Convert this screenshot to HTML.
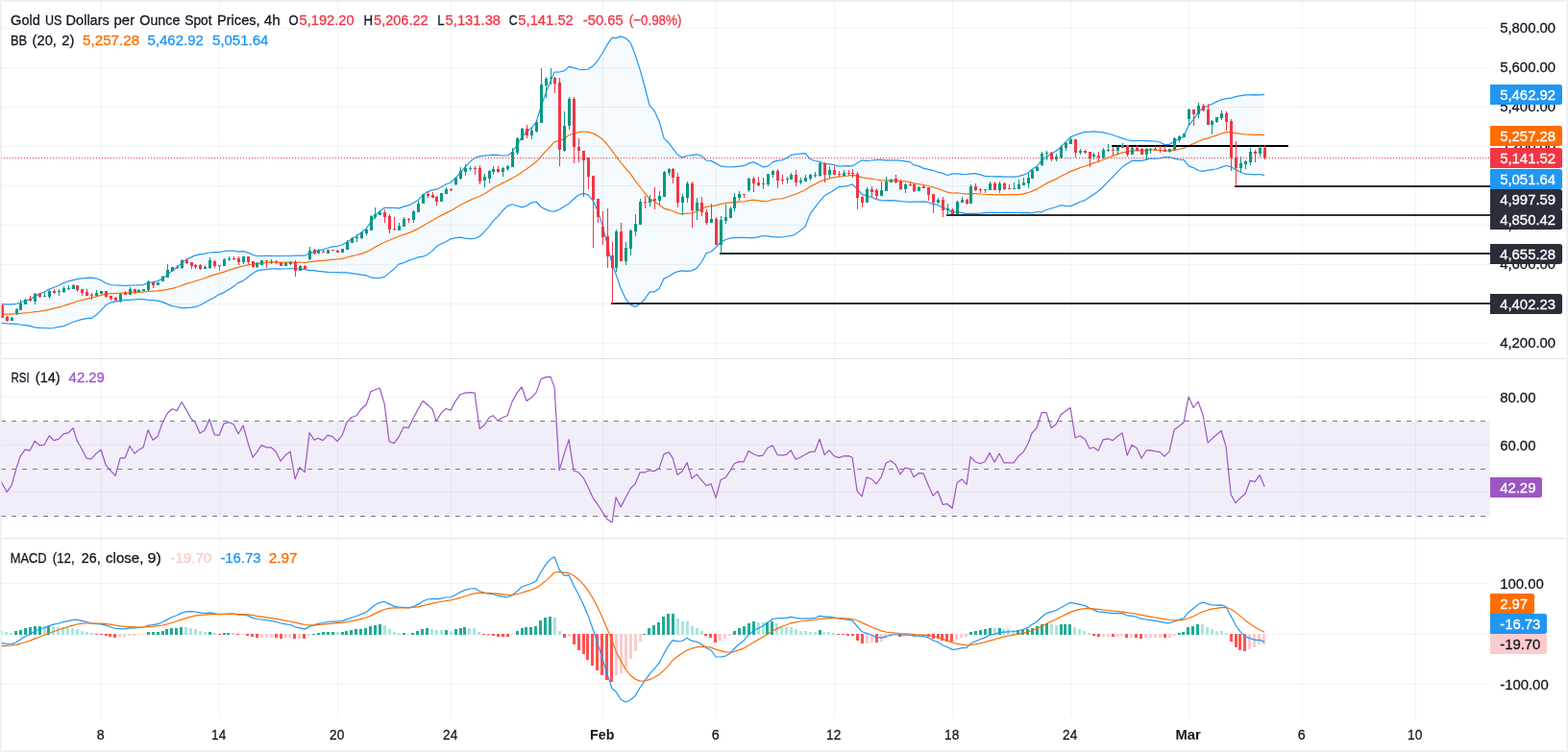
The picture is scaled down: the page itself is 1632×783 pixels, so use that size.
<!DOCTYPE html>
<html lang="en"><head><meta charset="utf-8"><title>Gold US Dollars per Ounce Spot Prices, 4h</title>
<style>html,body{margin:0;padding:0;background:#fff;overflow:hidden}svg{display:block}</style></head>
<body>
<svg width="1632" height="783" viewBox="0 0 1632 783" font-family='"Liberation Sans", Arial, sans-serif' font-size="15.2">
<rect width="1632" height="783" fill="#eef0f4"/>
<rect x="2" y="2" width="1628" height="779" fill="#fff"/>
<g fill="rgba(42,46,57,0.06)" shape-rendering="crispEdges">
<rect x="105" y="2" width="1" height="745"/>
<rect x="228" y="2" width="1" height="745"/>
<rect x="351" y="2" width="1" height="745"/>
<rect x="469" y="2" width="1" height="745"/>
<rect x="627" y="2" width="1" height="745"/>
<rect x="745" y="2" width="1" height="745"/>
<rect x="868" y="2" width="1" height="745"/>
<rect x="991" y="2" width="1" height="745"/>
<rect x="1114" y="2" width="1" height="745"/>
<rect x="1237" y="2" width="1" height="745"/>
<rect x="1355" y="2" width="1" height="745"/>
<rect x="1473" y="2" width="1" height="745"/>
<rect x="2" y="29" width="1549" height="1"/>
<rect x="2" y="70" width="1549" height="1"/>
<rect x="2" y="111" width="1549" height="1"/>
<rect x="2" y="152" width="1549" height="1"/>
<rect x="2" y="193" width="1549" height="1"/>
<rect x="2" y="234" width="1549" height="1"/>
<rect x="2" y="275" width="1549" height="1"/>
<rect x="2" y="316" width="1549" height="1"/>
<rect x="2" y="357" width="1549" height="1"/>
<rect x="2" y="413" width="1549" height="1"/>
<rect x="2" y="463" width="1549" height="1"/>
<rect x="2" y="512" width="1549" height="1"/>
<rect x="2" y="607" width="1549" height="1"/>
<rect x="2" y="660" width="1549" height="1"/>
<rect x="2" y="712" width="1549" height="1"/>
</g>
<g fill="#e0e3eb" shape-rendering="crispEdges"><rect x="2" y="373" width="1628" height="1"/><rect x="2" y="560" width="1628" height="1"/></g>
<defs><clipPath id="c1"><rect x="1" y="2" width="1550" height="371"/></clipPath><clipPath id="c2"><rect x="1" y="374" width="1550" height="186"/></clipPath><clipPath id="c3"><rect x="1" y="561" width="1550" height="186"/></clipPath></defs>
<g clip-path="url(#c1)">
<path d="M0.0,316.9 L2.1,316.9 L7.1,316.9 L12.1,316.8 L17.1,316.3 L21.1,315.0 L26.1,313.2 L31.1,312.0 L36.1,308.6 L41.1,305.9 L46.1,304.0 L51.1,301.1 L56.1,299.2 L61.1,297.3 L66.1,294.6 L71.1,292.8 L76.1,291.6 L80.1,290.6 L85.1,289.9 L90.1,289.3 L95.1,289.1 L100.1,289.8 L105.1,291.8 L110.1,294.8 L115.1,296.5 L120.1,297.0 L125.1,297.2 L130.1,297.5 L135.1,297.1 L140.1,297.0 L144.1,296.8 L149.1,296.6 L154.1,294.5 L159.1,293.7 L164.1,292.6 L169.1,290.1 L174.1,286.3 L179.1,281.9 L184.1,278.4 L189.1,273.6 L194.1,270.2 L199.1,267.9 L203.1,265.9 L208.1,264.9 L213.1,264.2 L218.1,263.0 L223.1,262.6 L228.1,262.7 L233.1,261.5 L238.1,261.1 L243.1,261.1 L248.1,262.2 L253.1,261.6 L258.1,263.1 L263.1,265.2 L267.1,266.5 L272.1,266.5 L277.1,266.3 L282.1,266.3 L287.1,266.5 L292.1,266.5 L297.1,266.5 L302.1,266.5 L307.1,266.2 L312.1,266.2 L317.1,266.2 L322.1,263.7 L327.1,262.4 L331.1,260.8 L336.1,259.8 L341.1,258.3 L346.1,256.9 L351.1,256.3 L356.1,254.8 L361.1,252.2 L366.1,248.8 L371.1,245.8 L376.1,242.0 L381.1,238.1 L386.1,231.2 L390.1,225.3 L395.1,219.9 L400.1,216.3 L405.1,216.3 L410.1,216.3 L415.1,216.9 L420.1,215.1 L425.1,213.9 L430.1,211.5 L435.1,208.2 L440.1,203.1 L445.1,199.6 L450.1,197.8 L454.1,197.2 L459.1,194.8 L464.1,192.0 L469.1,190.0 L474.1,185.4 L479.1,179.8 L484.1,173.8 L489.1,168.6 L494.1,164.3 L499.1,162.7 L504.1,162.1 L509.1,161.5 L513.1,161.2 L518.1,161.3 L523.1,162.0 L528.1,162.0 L533.1,158.4 L538.1,151.0 L543.1,142.5 L548.1,137.6 L553.1,133.3 L558.1,127.2 L563.1,110.8 L568.1,96.6 L573.1,84.3 L577.1,75.1 L582.1,75.0 L587.1,73.8 L592.1,69.4 L597.1,70.7 L602.1,72.0 L607.1,72.6 L612.1,72.0 L617.1,68.8 L622.1,63.2 L627.1,55.2 L632.1,46.3 L637.1,39.1 L641.1,39.6 L646.1,37.9 L651.1,39.5 L656.1,44.3 L661.1,56.8 L666.1,72.4 L671.1,90.5 L676.1,109.8 L681.1,115.4 L686.1,126.2 L691.1,144.1 L696.1,148.8 L700.1,154.3 L705.1,161.0 L710.1,164.1 L715.1,162.0 L720.1,161.6 L725.1,160.7 L730.1,162.4 L735.1,167.0 L740.1,167.4 L745.1,170.1 L750.1,172.9 L755.1,173.7 L760.1,174.0 L764.1,173.7 L769.1,173.1 L774.1,172.7 L779.1,170.1 L784.1,168.7 L789.1,170.9 L794.1,173.8 L799.1,173.1 L804.1,168.9 L809.1,167.1 L814.1,166.6 L819.1,164.3 L823.1,161.7 L828.1,160.5 L833.1,160.1 L838.1,159.6 L843.1,165.5 L848.1,167.5 L853.1,168.4 L858.1,170.7 L863.1,170.8 L868.1,171.6 L873.1,173.2 L878.1,172.8 L883.1,172.7 L887.1,172.9 L892.1,169.8 L897.1,166.8 L902.1,167.3 L907.1,167.0 L912.1,166.3 L917.1,166.4 L922.1,166.9 L927.1,166.8 L932.1,166.9 L937.1,167.2 L942.1,167.9 L947.1,168.6 L951.1,171.8 L956.1,172.9 L961.1,175.1 L966.1,176.4 L971.1,177.3 L976.1,179.3 L981.1,180.4 L986.1,182.5 L991.1,180.9 L996.1,180.9 L1001.1,181.4 L1006.1,181.5 L1010.1,180.8 L1015.1,180.7 L1020.1,181.9 L1025.1,183.4 L1030.1,183.7 L1035.1,183.8 L1040.1,183.7 L1045.1,184.2 L1050.1,184.0 L1055.1,184.1 L1060.1,183.6 L1065.1,182.2 L1070.1,180.0 L1074.1,176.3 L1079.1,173.3 L1084.1,167.2 L1089.1,163.2 L1094.1,160.2 L1099.1,157.3 L1104.1,153.2 L1109.1,147.9 L1114.1,142.6 L1119.1,140.7 L1124.1,138.9 L1129.1,137.4 L1134.1,137.4 L1138.1,136.9 L1143.1,137.4 L1148.1,137.8 L1153.1,139.0 L1158.1,140.5 L1163.1,142.3 L1168.1,143.9 L1173.1,145.5 L1178.1,146.6 L1183.1,146.5 L1188.1,146.5 L1193.1,146.7 L1197.1,146.8 L1202.1,147.0 L1207.1,148.0 L1212.1,150.6 L1217.1,150.3 L1222.1,147.5 L1227.1,144.7 L1232.1,142.0 L1237.1,130.8 L1242.1,124.6 L1247.1,117.1 L1252.1,112.1 L1257.1,110.5 L1261.1,108.5 L1266.1,106.1 L1271.1,103.8 L1276.1,102.7 L1281.1,102.1 L1286.1,100.6 L1291.1,99.6 L1296.1,98.9 L1301.1,98.8 L1306.1,98.7 L1311.1,98.8 L1316.1,98.4 L1316.1,182.7 L1311.1,181.5 L1306.1,181.9 L1301.1,181.5 L1296.1,181.2 L1291.1,179.2 L1286.1,176.6 L1281.1,173.7 L1276.1,172.5 L1271.1,174.1 L1266.1,176.0 L1261.1,176.6 L1257.1,177.3 L1252.1,178.3 L1247.1,177.5 L1242.1,174.6 L1237.1,172.9 L1232.1,166.4 L1227.1,166.2 L1222.1,165.1 L1217.1,163.6 L1212.1,163.7 L1207.1,165.0 L1202.1,165.2 L1197.1,165.2 L1193.1,166.1 L1188.1,167.3 L1183.1,167.2 L1178.1,167.4 L1173.1,170.6 L1168.1,173.8 L1163.1,178.8 L1158.1,184.3 L1153.1,189.3 L1148.1,194.5 L1143.1,199.0 L1138.1,202.8 L1134.1,205.3 L1129.1,208.6 L1124.1,210.3 L1119.1,212.6 L1114.1,214.6 L1109.1,214.5 L1104.1,213.7 L1099.1,215.5 L1094.1,217.0 L1089.1,218.5 L1084.1,220.8 L1079.1,220.5 L1074.1,221.9 L1070.1,221.3 L1065.1,221.7 L1060.1,221.5 L1055.1,221.3 L1050.1,221.4 L1045.1,221.3 L1040.1,221.5 L1035.1,221.4 L1030.1,221.4 L1025.1,221.6 L1020.1,222.1 L1015.1,222.4 L1010.1,222.4 L1006.1,222.6 L1001.1,221.6 L996.1,220.9 L991.1,221.0 L986.1,217.7 L981.1,216.2 L976.1,213.4 L971.1,212.6 L966.1,210.7 L961.1,209.9 L956.1,210.2 L951.1,210.0 L947.1,210.3 L942.1,210.0 L937.1,209.7 L932.1,208.8 L927.1,208.7 L922.1,208.9 L917.1,208.7 L912.1,207.6 L907.1,205.3 L902.1,203.8 L897.1,202.4 L892.1,196.5 L887.1,191.9 L883.1,193.3 L878.1,194.2 L873.1,194.4 L868.1,198.1 L863.1,200.9 L858.1,203.8 L853.1,209.7 L848.1,216.2 L843.1,222.9 L838.1,236.1 L833.1,239.9 L828.1,243.8 L823.1,245.7 L819.1,246.0 L814.1,247.0 L809.1,246.8 L804.1,246.7 L799.1,245.8 L794.1,245.5 L789.1,246.8 L784.1,247.7 L779.1,247.6 L774.1,247.3 L769.1,247.4 L764.1,247.6 L760.1,247.8 L755.1,249.7 L750.1,251.9 L745.1,257.6 L740.1,262.0 L735.1,263.7 L730.1,273.0 L725.1,279.3 L720.1,281.9 L715.1,282.3 L710.1,281.8 L705.1,282.8 L700.1,285.1 L696.1,287.7 L691.1,290.1 L686.1,300.4 L681.1,303.9 L676.1,304.2 L671.1,311.5 L666.1,316.6 L661.1,319.4 L656.1,317.4 L651.1,310.9 L646.1,300.3 L641.1,285.5 L637.1,275.3 L632.1,254.7 L627.1,234.9 L622.1,219.6 L617.1,208.9 L612.1,202.8 L607.1,201.4 L602.1,203.2 L597.1,207.2 L592.1,212.1 L587.1,215.0 L582.1,218.2 L577.1,220.1 L573.1,220.0 L568.1,218.1 L563.1,215.5 L558.1,210.0 L553.1,211.2 L548.1,214.3 L543.1,215.9 L538.1,214.3 L533.1,212.8 L528.1,214.6 L523.1,219.3 L518.1,225.3 L513.1,230.3 L509.1,235.9 L504.1,241.4 L499.1,246.3 L494.1,248.4 L489.1,248.6 L484.1,248.2 L479.1,247.2 L474.1,247.7 L469.1,248.8 L464.1,251.8 L459.1,254.0 L454.1,256.8 L450.1,261.1 L445.1,265.0 L440.1,267.2 L435.1,267.9 L430.1,269.7 L425.1,271.4 L420.1,273.7 L415.1,275.1 L410.1,280.2 L405.1,284.1 L400.1,288.4 L395.1,289.5 L390.1,289.4 L386.1,288.9 L381.1,286.7 L376.1,286.1 L371.1,285.3 L366.1,284.6 L361.1,283.9 L356.1,283.8 L351.1,283.7 L346.1,283.5 L341.1,283.3 L336.1,282.8 L331.1,282.4 L327.1,281.7 L322.1,281.7 L317.1,280.7 L312.1,279.9 L307.1,280.0 L302.1,279.5 L297.1,280.0 L292.1,280.2 L287.1,279.9 L282.1,279.9 L277.1,280.6 L272.1,281.1 L267.1,282.1 L263.1,284.7 L258.1,288.5 L253.1,292.4 L248.1,294.4 L243.1,298.3 L238.1,301.6 L233.1,304.6 L228.1,306.6 L223.1,309.7 L218.1,312.2 L213.1,315.2 L208.1,317.7 L203.1,319.6 L199.1,320.2 L194.1,320.7 L189.1,320.7 L184.1,319.5 L179.1,318.6 L174.1,316.6 L169.1,314.4 L164.1,313.1 L159.1,312.6 L154.1,312.4 L149.1,311.6 L144.1,311.5 L140.1,311.9 L135.1,312.3 L130.1,312.4 L125.1,313.3 L120.1,314.1 L115.1,314.9 L110.1,317.8 L105.1,323.1 L100.1,328.1 L95.1,331.4 L90.1,331.6 L85.1,332.7 L80.1,334.0 L76.1,335.3 L71.1,337.5 L66.1,339.6 L61.1,340.4 L56.1,341.5 L51.1,341.8 L46.1,341.5 L41.1,341.3 L36.1,340.8 L31.1,339.4 L26.1,338.7 L21.1,338.0 L17.1,337.4 L12.1,337.1 L7.1,336.9 L2.1,336.5 L0.0,336.5 Z" fill="#2196f3" fill-opacity="0.05"/>
<path d="M0.0,327.3 L2.1,327.3 L7.1,327.2 L12.1,327.1 L17.1,326.7 L21.1,326.3 L26.1,325.8 L31.1,325.5 L36.1,324.7 L41.1,324.1 L46.1,323.3 L51.1,322.4 L56.1,321.2 L61.1,319.9 L66.1,318.5 L71.1,316.9 L76.1,315.2 L80.1,313.8 L85.1,312.5 L90.1,311.3 L95.1,310.2 L100.1,308.9 L105.1,307.4 L110.1,306.3 L115.1,305.7 L120.1,305.6 L125.1,305.2 L130.1,304.9 L135.1,304.7 L140.1,304.4 L144.1,304.2 L149.1,304.1 L154.1,303.5 L159.1,303.2 L164.1,302.9 L169.1,302.2 L174.1,301.4 L179.1,300.3 L184.1,299.0 L189.1,297.2 L194.1,295.4 L199.1,294.0 L203.1,292.8 L208.1,291.3 L213.1,289.7 L218.1,287.6 L223.1,286.1 L228.1,284.6 L233.1,283.1 L238.1,281.4 L243.1,279.7 L248.1,278.3 L253.1,277.0 L258.1,275.8 L263.1,275.0 L267.1,274.3 L272.1,273.8 L277.1,273.4 L282.1,273.1 L287.1,273.2 L292.1,273.4 L297.1,273.2 L302.1,273.0 L307.1,273.1 L312.1,273.1 L317.1,273.5 L322.1,272.7 L327.1,272.1 L331.1,271.6 L336.1,271.3 L341.1,270.8 L346.1,270.2 L351.1,270.0 L356.1,269.3 L361.1,268.0 L366.1,266.7 L371.1,265.5 L376.1,264.1 L381.1,262.4 L386.1,260.0 L390.1,257.4 L395.1,254.7 L400.1,252.3 L405.1,250.2 L410.1,248.2 L415.1,246.0 L420.1,244.4 L425.1,242.6 L430.1,240.6 L435.1,238.1 L440.1,235.2 L445.1,232.3 L450.1,229.5 L454.1,227.0 L459.1,224.4 L464.1,221.9 L469.1,219.4 L474.1,216.6 L479.1,213.5 L484.1,211.0 L489.1,208.6 L494.1,206.3 L499.1,204.5 L504.1,201.8 L509.1,198.7 L513.1,195.8 L518.1,193.3 L523.1,190.6 L528.1,188.3 L533.1,185.6 L538.1,182.7 L543.1,179.2 L548.1,176.0 L553.1,172.3 L558.1,168.6 L563.1,163.1 L568.1,157.4 L573.1,152.2 L577.1,147.6 L582.1,146.6 L587.1,144.4 L592.1,140.8 L597.1,139.0 L602.1,137.6 L607.1,137.0 L612.1,137.4 L617.1,138.9 L622.1,141.4 L627.1,145.1 L632.1,150.5 L637.1,157.2 L641.1,162.6 L646.1,169.1 L651.1,175.2 L656.1,180.9 L661.1,188.1 L666.1,194.5 L671.1,201.0 L676.1,207.0 L681.1,209.7 L686.1,213.3 L691.1,217.1 L696.1,218.3 L700.1,219.7 L705.1,221.9 L710.1,223.0 L715.1,222.1 L720.1,221.8 L725.1,220.0 L730.1,217.7 L735.1,215.4 L740.1,214.7 L745.1,213.9 L750.1,212.4 L755.1,211.7 L760.1,210.9 L764.1,210.7 L769.1,210.2 L774.1,210.0 L779.1,208.9 L784.1,208.2 L789.1,208.9 L794.1,209.6 L799.1,209.5 L804.1,207.8 L809.1,207.0 L814.1,206.8 L819.1,205.2 L823.1,203.7 L828.1,202.2 L833.1,200.0 L838.1,197.8 L843.1,194.2 L848.1,191.9 L853.1,189.1 L858.1,187.3 L863.1,185.9 L868.1,184.9 L873.1,183.8 L878.1,183.5 L883.1,183.0 L887.1,182.4 L892.1,183.1 L897.1,184.6 L902.1,185.6 L907.1,186.2 L912.1,187.0 L917.1,187.6 L922.1,187.9 L927.1,187.8 L932.1,187.9 L937.1,188.4 L942.1,188.9 L947.1,189.5 L951.1,190.9 L956.1,191.6 L961.1,192.5 L966.1,193.5 L971.1,195.0 L976.1,196.4 L981.1,198.3 L986.1,200.1 L991.1,201.0 L996.1,200.9 L1001.1,201.5 L1006.1,202.1 L1010.1,201.6 L1015.1,201.6 L1020.1,202.0 L1025.1,202.5 L1030.1,202.6 L1035.1,202.6 L1040.1,202.6 L1045.1,202.8 L1050.1,202.7 L1055.1,202.7 L1060.1,202.6 L1065.1,201.9 L1070.1,200.7 L1074.1,199.1 L1079.1,196.9 L1084.1,194.0 L1089.1,190.9 L1094.1,188.6 L1099.1,186.4 L1104.1,183.5 L1109.1,181.2 L1114.1,178.6 L1119.1,176.6 L1124.1,174.6 L1129.1,173.0 L1134.1,171.4 L1138.1,169.9 L1143.1,168.2 L1148.1,166.2 L1153.1,164.2 L1158.1,162.4 L1163.1,160.6 L1168.1,158.9 L1173.1,158.0 L1178.1,157.0 L1183.1,156.9 L1188.1,156.9 L1193.1,156.4 L1197.1,156.0 L1202.1,156.1 L1207.1,156.5 L1212.1,157.1 L1217.1,157.0 L1222.1,156.3 L1227.1,155.5 L1232.1,154.2 L1237.1,151.9 L1242.1,149.6 L1247.1,147.3 L1252.1,145.2 L1257.1,143.9 L1261.1,142.5 L1266.1,141.1 L1271.1,139.0 L1276.1,137.6 L1281.1,137.9 L1286.1,138.6 L1291.1,139.4 L1296.1,140.0 L1301.1,140.2 L1306.1,140.3 L1311.1,140.1 L1316.1,140.6" fill="none" stroke="#ff6d00" stroke-width="1.2" stroke-linejoin="round"/>
<path d="M0.0,316.9 L2.1,316.9 L7.1,316.9 L12.1,316.8 L17.1,316.3 L21.1,315.0 L26.1,313.2 L31.1,312.0 L36.1,308.6 L41.1,305.9 L46.1,304.0 L51.1,301.1 L56.1,299.2 L61.1,297.3 L66.1,294.6 L71.1,292.8 L76.1,291.6 L80.1,290.6 L85.1,289.9 L90.1,289.3 L95.1,289.1 L100.1,289.8 L105.1,291.8 L110.1,294.8 L115.1,296.5 L120.1,297.0 L125.1,297.2 L130.1,297.5 L135.1,297.1 L140.1,297.0 L144.1,296.8 L149.1,296.6 L154.1,294.5 L159.1,293.7 L164.1,292.6 L169.1,290.1 L174.1,286.3 L179.1,281.9 L184.1,278.4 L189.1,273.6 L194.1,270.2 L199.1,267.9 L203.1,265.9 L208.1,264.9 L213.1,264.2 L218.1,263.0 L223.1,262.6 L228.1,262.7 L233.1,261.5 L238.1,261.1 L243.1,261.1 L248.1,262.2 L253.1,261.6 L258.1,263.1 L263.1,265.2 L267.1,266.5 L272.1,266.5 L277.1,266.3 L282.1,266.3 L287.1,266.5 L292.1,266.5 L297.1,266.5 L302.1,266.5 L307.1,266.2 L312.1,266.2 L317.1,266.2 L322.1,263.7 L327.1,262.4 L331.1,260.8 L336.1,259.8 L341.1,258.3 L346.1,256.9 L351.1,256.3 L356.1,254.8 L361.1,252.2 L366.1,248.8 L371.1,245.8 L376.1,242.0 L381.1,238.1 L386.1,231.2 L390.1,225.3 L395.1,219.9 L400.1,216.3 L405.1,216.3 L410.1,216.3 L415.1,216.9 L420.1,215.1 L425.1,213.9 L430.1,211.5 L435.1,208.2 L440.1,203.1 L445.1,199.6 L450.1,197.8 L454.1,197.2 L459.1,194.8 L464.1,192.0 L469.1,190.0 L474.1,185.4 L479.1,179.8 L484.1,173.8 L489.1,168.6 L494.1,164.3 L499.1,162.7 L504.1,162.1 L509.1,161.5 L513.1,161.2 L518.1,161.3 L523.1,162.0 L528.1,162.0 L533.1,158.4 L538.1,151.0 L543.1,142.5 L548.1,137.6 L553.1,133.3 L558.1,127.2 L563.1,110.8 L568.1,96.6 L573.1,84.3 L577.1,75.1 L582.1,75.0 L587.1,73.8 L592.1,69.4 L597.1,70.7 L602.1,72.0 L607.1,72.6 L612.1,72.0 L617.1,68.8 L622.1,63.2 L627.1,55.2 L632.1,46.3 L637.1,39.1 L641.1,39.6 L646.1,37.9 L651.1,39.5 L656.1,44.3 L661.1,56.8 L666.1,72.4 L671.1,90.5 L676.1,109.8 L681.1,115.4 L686.1,126.2 L691.1,144.1 L696.1,148.8 L700.1,154.3 L705.1,161.0 L710.1,164.1 L715.1,162.0 L720.1,161.6 L725.1,160.7 L730.1,162.4 L735.1,167.0 L740.1,167.4 L745.1,170.1 L750.1,172.9 L755.1,173.7 L760.1,174.0 L764.1,173.7 L769.1,173.1 L774.1,172.7 L779.1,170.1 L784.1,168.7 L789.1,170.9 L794.1,173.8 L799.1,173.1 L804.1,168.9 L809.1,167.1 L814.1,166.6 L819.1,164.3 L823.1,161.7 L828.1,160.5 L833.1,160.1 L838.1,159.6 L843.1,165.5 L848.1,167.5 L853.1,168.4 L858.1,170.7 L863.1,170.8 L868.1,171.6 L873.1,173.2 L878.1,172.8 L883.1,172.7 L887.1,172.9 L892.1,169.8 L897.1,166.8 L902.1,167.3 L907.1,167.0 L912.1,166.3 L917.1,166.4 L922.1,166.9 L927.1,166.8 L932.1,166.9 L937.1,167.2 L942.1,167.9 L947.1,168.6 L951.1,171.8 L956.1,172.9 L961.1,175.1 L966.1,176.4 L971.1,177.3 L976.1,179.3 L981.1,180.4 L986.1,182.5 L991.1,180.9 L996.1,180.9 L1001.1,181.4 L1006.1,181.5 L1010.1,180.8 L1015.1,180.7 L1020.1,181.9 L1025.1,183.4 L1030.1,183.7 L1035.1,183.8 L1040.1,183.7 L1045.1,184.2 L1050.1,184.0 L1055.1,184.1 L1060.1,183.6 L1065.1,182.2 L1070.1,180.0 L1074.1,176.3 L1079.1,173.3 L1084.1,167.2 L1089.1,163.2 L1094.1,160.2 L1099.1,157.3 L1104.1,153.2 L1109.1,147.9 L1114.1,142.6 L1119.1,140.7 L1124.1,138.9 L1129.1,137.4 L1134.1,137.4 L1138.1,136.9 L1143.1,137.4 L1148.1,137.8 L1153.1,139.0 L1158.1,140.5 L1163.1,142.3 L1168.1,143.9 L1173.1,145.5 L1178.1,146.6 L1183.1,146.5 L1188.1,146.5 L1193.1,146.7 L1197.1,146.8 L1202.1,147.0 L1207.1,148.0 L1212.1,150.6 L1217.1,150.3 L1222.1,147.5 L1227.1,144.7 L1232.1,142.0 L1237.1,130.8 L1242.1,124.6 L1247.1,117.1 L1252.1,112.1 L1257.1,110.5 L1261.1,108.5 L1266.1,106.1 L1271.1,103.8 L1276.1,102.7 L1281.1,102.1 L1286.1,100.6 L1291.1,99.6 L1296.1,98.9 L1301.1,98.8 L1306.1,98.7 L1311.1,98.8 L1316.1,98.4" fill="none" stroke="#2196f3" stroke-width="1.2" stroke-linejoin="round"/>
<path d="M0.0,336.5 L2.1,336.5 L7.1,336.9 L12.1,337.1 L17.1,337.4 L21.1,338.0 L26.1,338.7 L31.1,339.4 L36.1,340.8 L41.1,341.3 L46.1,341.5 L51.1,341.8 L56.1,341.5 L61.1,340.4 L66.1,339.6 L71.1,337.5 L76.1,335.3 L80.1,334.0 L85.1,332.7 L90.1,331.6 L95.1,331.4 L100.1,328.1 L105.1,323.1 L110.1,317.8 L115.1,314.9 L120.1,314.1 L125.1,313.3 L130.1,312.4 L135.1,312.3 L140.1,311.9 L144.1,311.5 L149.1,311.6 L154.1,312.4 L159.1,312.6 L164.1,313.1 L169.1,314.4 L174.1,316.6 L179.1,318.6 L184.1,319.5 L189.1,320.7 L194.1,320.7 L199.1,320.2 L203.1,319.6 L208.1,317.7 L213.1,315.2 L218.1,312.2 L223.1,309.7 L228.1,306.6 L233.1,304.6 L238.1,301.6 L243.1,298.3 L248.1,294.4 L253.1,292.4 L258.1,288.5 L263.1,284.7 L267.1,282.1 L272.1,281.1 L277.1,280.6 L282.1,279.9 L287.1,279.9 L292.1,280.2 L297.1,280.0 L302.1,279.5 L307.1,280.0 L312.1,279.9 L317.1,280.7 L322.1,281.7 L327.1,281.7 L331.1,282.4 L336.1,282.8 L341.1,283.3 L346.1,283.5 L351.1,283.7 L356.1,283.8 L361.1,283.9 L366.1,284.6 L371.1,285.3 L376.1,286.1 L381.1,286.7 L386.1,288.9 L390.1,289.4 L395.1,289.5 L400.1,288.4 L405.1,284.1 L410.1,280.2 L415.1,275.1 L420.1,273.7 L425.1,271.4 L430.1,269.7 L435.1,267.9 L440.1,267.2 L445.1,265.0 L450.1,261.1 L454.1,256.8 L459.1,254.0 L464.1,251.8 L469.1,248.8 L474.1,247.7 L479.1,247.2 L484.1,248.2 L489.1,248.6 L494.1,248.4 L499.1,246.3 L504.1,241.4 L509.1,235.9 L513.1,230.3 L518.1,225.3 L523.1,219.3 L528.1,214.6 L533.1,212.8 L538.1,214.3 L543.1,215.9 L548.1,214.3 L553.1,211.2 L558.1,210.0 L563.1,215.5 L568.1,218.1 L573.1,220.0 L577.1,220.1 L582.1,218.2 L587.1,215.0 L592.1,212.1 L597.1,207.2 L602.1,203.2 L607.1,201.4 L612.1,202.8 L617.1,208.9 L622.1,219.6 L627.1,234.9 L632.1,254.7 L637.1,275.3 L641.1,285.5 L646.1,300.3 L651.1,310.9 L656.1,317.4 L661.1,319.4 L666.1,316.6 L671.1,311.5 L676.1,304.2 L681.1,303.9 L686.1,300.4 L691.1,290.1 L696.1,287.7 L700.1,285.1 L705.1,282.8 L710.1,281.8 L715.1,282.3 L720.1,281.9 L725.1,279.3 L730.1,273.0 L735.1,263.7 L740.1,262.0 L745.1,257.6 L750.1,251.9 L755.1,249.7 L760.1,247.8 L764.1,247.6 L769.1,247.4 L774.1,247.3 L779.1,247.6 L784.1,247.7 L789.1,246.8 L794.1,245.5 L799.1,245.8 L804.1,246.7 L809.1,246.8 L814.1,247.0 L819.1,246.0 L823.1,245.7 L828.1,243.8 L833.1,239.9 L838.1,236.1 L843.1,222.9 L848.1,216.2 L853.1,209.7 L858.1,203.8 L863.1,200.9 L868.1,198.1 L873.1,194.4 L878.1,194.2 L883.1,193.3 L887.1,191.9 L892.1,196.5 L897.1,202.4 L902.1,203.8 L907.1,205.3 L912.1,207.6 L917.1,208.7 L922.1,208.9 L927.1,208.7 L932.1,208.8 L937.1,209.7 L942.1,210.0 L947.1,210.3 L951.1,210.0 L956.1,210.2 L961.1,209.9 L966.1,210.7 L971.1,212.6 L976.1,213.4 L981.1,216.2 L986.1,217.7 L991.1,221.0 L996.1,220.9 L1001.1,221.6 L1006.1,222.6 L1010.1,222.4 L1015.1,222.4 L1020.1,222.1 L1025.1,221.6 L1030.1,221.4 L1035.1,221.4 L1040.1,221.5 L1045.1,221.3 L1050.1,221.4 L1055.1,221.3 L1060.1,221.5 L1065.1,221.7 L1070.1,221.3 L1074.1,221.9 L1079.1,220.5 L1084.1,220.8 L1089.1,218.5 L1094.1,217.0 L1099.1,215.5 L1104.1,213.7 L1109.1,214.5 L1114.1,214.6 L1119.1,212.6 L1124.1,210.3 L1129.1,208.6 L1134.1,205.3 L1138.1,202.8 L1143.1,199.0 L1148.1,194.5 L1153.1,189.3 L1158.1,184.3 L1163.1,178.8 L1168.1,173.8 L1173.1,170.6 L1178.1,167.4 L1183.1,167.2 L1188.1,167.3 L1193.1,166.1 L1197.1,165.2 L1202.1,165.2 L1207.1,165.0 L1212.1,163.7 L1217.1,163.6 L1222.1,165.1 L1227.1,166.2 L1232.1,166.4 L1237.1,172.9 L1242.1,174.6 L1247.1,177.5 L1252.1,178.3 L1257.1,177.3 L1261.1,176.6 L1266.1,176.0 L1271.1,174.1 L1276.1,172.5 L1281.1,173.7 L1286.1,176.6 L1291.1,179.2 L1296.1,181.2 L1301.1,181.5 L1306.1,181.9 L1311.1,181.5 L1316.1,182.7" fill="none" stroke="#2196f3" stroke-width="1.2" stroke-linejoin="round"/>
<rect x="636" y="315.0" width="915" height="2" fill="#2a2e39" shape-rendering="crispEdges"/>
<rect x="749" y="263.0" width="802" height="2" fill="#2a2e39" shape-rendering="crispEdges"/>
<rect x="985" y="223.0" width="566" height="2" fill="#2a2e39" shape-rendering="crispEdges"/>
<rect x="1285" y="193.0" width="266" height="2" fill="#2a2e39" shape-rendering="crispEdges"/>
<rect x="1157" y="151" width="184" height="2" rx="1" fill="#000"/>
<g fill="#089981" shape-rendering="crispEdges"><rect x="12" y="330" width="1" height="4"/><rect x="11" y="331" width="3" height="3"/><rect x="17" y="321" width="1" height="7"/><rect x="16" y="322" width="3" height="4"/><rect x="21" y="312" width="1" height="11"/><rect x="20" y="316" width="3" height="7"/><rect x="26" y="311" width="1" height="6"/><rect x="25" y="312" width="3" height="5"/><rect x="36" y="305" width="1" height="12"/><rect x="35" y="306" width="3" height="8"/><rect x="46" y="304" width="1" height="5"/><rect x="45" y="308" width="3" height="1"/><rect x="51" y="302" width="1" height="9"/><rect x="50" y="303" width="3" height="6"/><rect x="61" y="301" width="1" height="7"/><rect x="60" y="303" width="3" height="1"/><rect x="66" y="298" width="1" height="7"/><rect x="65" y="300" width="3" height="4"/><rect x="71" y="297" width="1" height="5"/><rect x="70" y="300" width="3" height="1"/><rect x="76" y="296" width="1" height="5"/><rect x="75" y="297" width="3" height="4"/><rect x="100" y="302" width="1" height="6"/><rect x="99" y="305" width="3" height="3"/><rect x="104" y="303" width="3" height="3"/><rect x="125" y="305" width="1" height="10"/><rect x="124" y="306" width="3" height="7"/><rect x="135" y="299" width="1" height="8"/><rect x="134" y="301" width="3" height="6"/><rect x="144" y="301" width="1" height="4"/><rect x="143" y="302" width="3" height="2"/><rect x="148" y="301" width="3" height="2"/><rect x="154" y="292" width="1" height="12"/><rect x="153" y="293" width="3" height="9"/><rect x="163" y="294" width="3" height="3"/><rect x="169" y="287" width="1" height="6"/><rect x="168" y="288" width="3" height="5"/><rect x="174" y="275" width="1" height="14"/><rect x="173" y="281" width="3" height="8"/><rect x="179" y="278" width="1" height="5"/><rect x="178" y="278" width="3" height="4"/><rect x="189" y="270" width="1" height="10"/><rect x="188" y="271" width="3" height="8"/><rect x="213" y="276" width="1" height="4"/><rect x="212" y="278" width="3" height="2"/><rect x="218" y="268" width="1" height="12"/><rect x="217" y="271" width="3" height="8"/><rect x="233" y="269" width="1" height="8"/><rect x="232" y="270" width="3" height="7"/><rect x="238" y="267" width="1" height="5"/><rect x="237" y="269" width="3" height="1"/><rect x="253" y="267" width="1" height="8"/><rect x="252" y="267" width="3" height="6"/><rect x="267" y="273" width="1" height="6"/><rect x="266" y="274" width="3" height="4"/><rect x="271" y="271" width="3" height="5"/><rect x="282" y="270" width="1" height="5"/><rect x="281" y="272" width="3" height="1"/><rect x="297" y="273" width="1" height="4"/><rect x="296" y="274" width="3" height="3"/><rect x="302" y="272" width="1" height="4"/><rect x="301" y="273" width="3" height="2"/><rect x="312" y="276" width="1" height="6"/><rect x="311" y="277" width="3" height="5"/><rect x="322" y="257" width="1" height="14"/><rect x="321" y="261" width="3" height="9"/><rect x="331" y="259" width="1" height="5"/><rect x="330" y="261" width="3" height="3"/><rect x="340" y="260" width="3" height="4"/><rect x="355" y="259" width="3" height="4"/><rect x="361" y="250" width="1" height="10"/><rect x="360" y="252" width="3" height="8"/><rect x="366" y="247" width="1" height="6"/><rect x="365" y="248" width="3" height="5"/><rect x="371" y="244" width="1" height="8"/><rect x="370" y="247" width="3" height="1"/><rect x="376" y="241" width="1" height="8"/><rect x="375" y="242" width="3" height="6"/><rect x="381" y="238" width="1" height="7"/><rect x="380" y="239" width="3" height="4"/><rect x="386" y="224" width="1" height="16"/><rect x="385" y="225" width="3" height="15"/><rect x="390" y="216" width="1" height="12"/><rect x="389" y="223" width="3" height="3"/><rect x="395" y="219" width="1" height="5"/><rect x="394" y="221" width="3" height="3"/><rect x="415" y="232" width="1" height="8"/><rect x="414" y="235" width="3" height="5"/><rect x="420" y="226" width="1" height="10"/><rect x="419" y="228" width="3" height="8"/><rect x="430" y="219" width="1" height="13"/><rect x="429" y="220" width="3" height="9"/><rect x="435" y="209" width="1" height="12"/><rect x="434" y="212" width="3" height="9"/><rect x="439" y="202" width="3" height="10"/><rect x="458" y="201" width="3" height="9"/><rect x="464" y="195" width="1" height="7"/><rect x="463" y="197" width="3" height="5"/><rect x="474" y="185" width="1" height="8"/><rect x="473" y="185" width="3" height="7"/><rect x="479" y="174" width="1" height="13"/><rect x="478" y="178" width="3" height="8"/><rect x="484" y="171" width="1" height="12"/><rect x="483" y="175" width="3" height="4"/><rect x="489" y="173" width="1" height="5"/><rect x="488" y="175" width="3" height="1"/><rect x="504" y="181" width="1" height="14"/><rect x="503" y="184" width="3" height="4"/><rect x="509" y="177" width="1" height="14"/><rect x="508" y="178" width="3" height="8"/><rect x="513" y="173" width="1" height="9"/><rect x="512" y="176" width="3" height="3"/><rect x="523" y="174" width="1" height="10"/><rect x="522" y="175" width="3" height="4"/><rect x="528" y="172" width="1" height="6"/><rect x="527" y="173" width="3" height="3"/><rect x="533" y="154" width="1" height="20"/><rect x="532" y="158" width="3" height="16"/><rect x="538" y="143" width="1" height="18"/><rect x="537" y="144" width="3" height="15"/><rect x="543" y="133" width="1" height="13"/><rect x="542" y="134" width="3" height="12"/><rect x="553" y="132" width="1" height="13"/><rect x="552" y="136" width="3" height="5"/><rect x="558" y="125" width="1" height="13"/><rect x="557" y="127" width="3" height="10"/><rect x="563" y="71" width="1" height="57"/><rect x="562" y="88" width="3" height="40"/><rect x="568" y="80" width="1" height="22"/><rect x="567" y="82" width="3" height="7"/><rect x="573" y="71" width="1" height="17"/><rect x="572" y="81" width="3" height="1"/><rect x="587" y="116" width="1" height="42"/><rect x="586" y="131" width="3" height="26"/><rect x="592" y="101" width="1" height="34"/><rect x="591" y="103" width="3" height="28"/><rect x="641" y="239" width="1" height="44"/><rect x="640" y="241" width="3" height="38"/><rect x="651" y="252" width="1" height="24"/><rect x="650" y="258" width="3" height="14"/><rect x="656" y="239" width="1" height="27"/><rect x="655" y="240" width="3" height="19"/><rect x="661" y="223" width="1" height="23"/><rect x="660" y="233" width="3" height="8"/><rect x="666" y="207" width="1" height="27"/><rect x="665" y="210" width="3" height="24"/><rect x="676" y="203" width="1" height="12"/><rect x="675" y="207" width="3" height="4"/><rect x="686" y="199" width="1" height="14"/><rect x="685" y="204" width="3" height="5"/><rect x="691" y="178" width="1" height="27"/><rect x="690" y="179" width="3" height="26"/><rect x="696" y="175" width="1" height="8"/><rect x="695" y="176" width="3" height="4"/><rect x="710" y="202" width="1" height="22"/><rect x="709" y="205" width="3" height="6"/><rect x="715" y="189" width="1" height="22"/><rect x="714" y="191" width="3" height="15"/><rect x="725" y="206" width="1" height="23"/><rect x="724" y="211" width="3" height="8"/><rect x="740" y="212" width="1" height="20"/><rect x="739" y="228" width="3" height="4"/><rect x="750" y="225" width="1" height="39"/><rect x="749" y="229" width="3" height="26"/><rect x="755" y="213" width="1" height="20"/><rect x="754" y="226" width="3" height="4"/><rect x="760" y="215" width="1" height="12"/><rect x="759" y="217" width="3" height="10"/><rect x="764" y="201" width="1" height="19"/><rect x="763" y="205" width="3" height="12"/><rect x="769" y="199" width="1" height="10"/><rect x="768" y="202" width="3" height="4"/><rect x="779" y="185" width="1" height="15"/><rect x="778" y="186" width="3" height="12"/><rect x="794" y="185" width="1" height="12"/><rect x="793" y="191" width="3" height="1"/><rect x="799" y="181" width="1" height="13"/><rect x="798" y="181" width="3" height="11"/><rect x="804" y="177" width="1" height="8"/><rect x="803" y="178" width="3" height="4"/><rect x="819" y="184" width="1" height="7"/><rect x="818" y="186" width="3" height="1"/><rect x="823" y="180" width="1" height="7"/><rect x="822" y="182" width="3" height="5"/><rect x="833" y="185" width="1" height="7"/><rect x="832" y="188" width="3" height="2"/><rect x="838" y="182" width="1" height="7"/><rect x="837" y="185" width="3" height="4"/><rect x="843" y="181" width="1" height="7"/><rect x="842" y="182" width="3" height="4"/><rect x="848" y="179" width="1" height="6"/><rect x="847" y="182" width="3" height="1"/><rect x="853" y="169" width="1" height="15"/><rect x="852" y="170" width="3" height="13"/><rect x="863" y="173" width="1" height="12"/><rect x="862" y="177" width="3" height="5"/><rect x="878" y="177" width="1" height="7"/><rect x="877" y="180" width="3" height="3"/><rect x="902" y="195" width="1" height="16"/><rect x="901" y="197" width="3" height="14"/><rect x="917" y="189" width="1" height="15"/><rect x="916" y="198" width="3" height="6"/><rect x="922" y="184" width="1" height="15"/><rect x="921" y="189" width="3" height="10"/><rect x="927" y="186" width="1" height="4"/><rect x="926" y="187" width="3" height="3"/><rect x="942" y="191" width="1" height="10"/><rect x="941" y="192" width="3" height="5"/><rect x="956" y="194" width="1" height="5"/><rect x="955" y="195" width="3" height="4"/><rect x="976" y="206" width="1" height="6"/><rect x="975" y="208" width="3" height="3"/><rect x="986" y="212" width="1" height="12"/><rect x="985" y="217" width="3" height="2"/><rect x="996" y="209" width="1" height="14"/><rect x="995" y="210" width="3" height="13"/><rect x="1001" y="205" width="1" height="6"/><rect x="1000" y="208" width="3" height="3"/><rect x="1010" y="192" width="1" height="20"/><rect x="1009" y="194" width="3" height="18"/><rect x="1025" y="197" width="1" height="4"/><rect x="1024" y="197" width="3" height="1"/><rect x="1030" y="189" width="1" height="9"/><rect x="1029" y="191" width="3" height="7"/><rect x="1040" y="189" width="1" height="12"/><rect x="1039" y="191" width="3" height="7"/><rect x="1055" y="190" width="1" height="7"/><rect x="1054" y="196" width="3" height="1"/><rect x="1060" y="187" width="1" height="10"/><rect x="1059" y="192" width="3" height="5"/><rect x="1065" y="185" width="1" height="8"/><rect x="1064" y="190" width="3" height="3"/><rect x="1070" y="180" width="1" height="16"/><rect x="1069" y="185" width="3" height="6"/><rect x="1073" y="177" width="3" height="9"/><rect x="1079" y="173" width="1" height="5"/><rect x="1078" y="174" width="3" height="4"/><rect x="1084" y="158" width="1" height="15"/><rect x="1083" y="160" width="3" height="12"/><rect x="1089" y="157" width="1" height="10"/><rect x="1088" y="159" width="3" height="1"/><rect x="1099" y="160" width="1" height="8"/><rect x="1098" y="163" width="3" height="3"/><rect x="1104" y="151" width="1" height="14"/><rect x="1103" y="153" width="3" height="11"/><rect x="1109" y="148" width="1" height="9"/><rect x="1108" y="149" width="3" height="5"/><rect x="1114" y="143" width="1" height="7"/><rect x="1113" y="145" width="3" height="5"/><rect x="1124" y="155" width="1" height="6"/><rect x="1123" y="157" width="3" height="2"/><rect x="1138" y="159" width="1" height="7"/><rect x="1137" y="161" width="3" height="2"/><rect x="1148" y="154" width="1" height="11"/><rect x="1147" y="156" width="3" height="8"/><rect x="1153" y="150" width="1" height="8"/><rect x="1152" y="156" width="3" height="1"/><rect x="1163" y="152" width="1" height="9"/><rect x="1162" y="153" width="3" height="4"/><rect x="1168" y="149" width="1" height="5"/><rect x="1167" y="151" width="3" height="3"/><rect x="1178" y="153" width="1" height="8"/><rect x="1177" y="154" width="3" height="7"/><rect x="1193" y="154" width="1" height="13"/><rect x="1192" y="155" width="3" height="6"/><rect x="1197" y="154" width="1" height="6"/><rect x="1196" y="155" width="3" height="1"/><rect x="1217" y="155" width="1" height="4"/><rect x="1216" y="155" width="3" height="3"/><rect x="1222" y="143" width="1" height="13"/><rect x="1221" y="144" width="3" height="12"/><rect x="1227" y="141" width="1" height="7"/><rect x="1226" y="142" width="3" height="4"/><rect x="1231" y="139" width="3" height="4"/><rect x="1237" y="113" width="1" height="18"/><rect x="1236" y="114" width="3" height="10"/><rect x="1247" y="107" width="1" height="16"/><rect x="1246" y="110" width="3" height="9"/><rect x="1261" y="125" width="1" height="15"/><rect x="1260" y="126" width="3" height="4"/><rect x="1266" y="122" width="1" height="6"/><rect x="1265" y="122" width="3" height="5"/><rect x="1271" y="115" width="1" height="10"/><rect x="1270" y="118" width="3" height="5"/><rect x="1291" y="163" width="1" height="17"/><rect x="1290" y="170" width="3" height="5"/><rect x="1296" y="167" width="1" height="9"/><rect x="1295" y="168" width="3" height="3"/><rect x="1301" y="154" width="1" height="18"/><rect x="1300" y="158" width="3" height="11"/><rect x="1311" y="152" width="1" height="11"/><rect x="1310" y="154" width="3" height="6"/></g>
<g fill="#f23645" shape-rendering="crispEdges"><rect x="2" y="316" width="1" height="15"/><rect x="1" y="318" width="3" height="13"/><rect x="7" y="329" width="1" height="6"/><rect x="6" y="330" width="3" height="4"/><rect x="31" y="308" width="1" height="6"/><rect x="30" y="311" width="3" height="2"/><rect x="41" y="305" width="1" height="5"/><rect x="40" y="306" width="3" height="3"/><rect x="56" y="301" width="1" height="5"/><rect x="55" y="303" width="3" height="2"/><rect x="80" y="297" width="1" height="7"/><rect x="79" y="297" width="3" height="5"/><rect x="85" y="301" width="1" height="7"/><rect x="84" y="301" width="3" height="4"/><rect x="90" y="301" width="1" height="7"/><rect x="89" y="304" width="3" height="4"/><rect x="95" y="305" width="1" height="7"/><rect x="94" y="307" width="3" height="1"/><rect x="110" y="303" width="1" height="7"/><rect x="109" y="303" width="3" height="6"/><rect x="115" y="308" width="1" height="5"/><rect x="114" y="308" width="3" height="3"/><rect x="120" y="309" width="1" height="4"/><rect x="119" y="310" width="3" height="3"/><rect x="130" y="303" width="1" height="4"/><rect x="129" y="305" width="3" height="2"/><rect x="140" y="301" width="1" height="5"/><rect x="139" y="301" width="3" height="3"/><rect x="159" y="293" width="1" height="7"/><rect x="158" y="294" width="3" height="3"/><rect x="184" y="276" width="1" height="4"/><rect x="183" y="278" width="3" height="1"/><rect x="194" y="269" width="1" height="6"/><rect x="193" y="271" width="3" height="3"/><rect x="199" y="273" width="1" height="7"/><rect x="198" y="273" width="3" height="4"/><rect x="203" y="275" width="1" height="5"/><rect x="202" y="276" width="3" height="2"/><rect x="208" y="275" width="1" height="6"/><rect x="207" y="276" width="3" height="4"/><rect x="223" y="271" width="1" height="8"/><rect x="222" y="272" width="3" height="5"/><rect x="228" y="276" width="1" height="6"/><rect x="227" y="276" width="3" height="1"/><rect x="243" y="267" width="1" height="4"/><rect x="242" y="269" width="3" height="1"/><rect x="248" y="267" width="1" height="9"/><rect x="247" y="269" width="3" height="4"/><rect x="258" y="267" width="1" height="8"/><rect x="257" y="267" width="3" height="6"/><rect x="263" y="272" width="1" height="7"/><rect x="262" y="272" width="3" height="6"/><rect x="277" y="271" width="1" height="8"/><rect x="276" y="271" width="3" height="1"/><rect x="287" y="271" width="1" height="4"/><rect x="286" y="272" width="3" height="1"/><rect x="291" y="273" width="3" height="4"/><rect x="307" y="271" width="1" height="17"/><rect x="306" y="273" width="3" height="9"/><rect x="317" y="276" width="1" height="4"/><rect x="316" y="277" width="3" height="3"/><rect x="327" y="259" width="1" height="6"/><rect x="326" y="260" width="3" height="4"/><rect x="336" y="260" width="1" height="3"/><rect x="335" y="262" width="3" height="1"/><rect x="345" y="260" width="3" height="1"/><rect x="351" y="260" width="1" height="3"/><rect x="350" y="261" width="3" height="2"/><rect x="400" y="218" width="1" height="14"/><rect x="399" y="221" width="3" height="5"/><rect x="405" y="223" width="1" height="20"/><rect x="404" y="225" width="3" height="14"/><rect x="410" y="226" width="1" height="14"/><rect x="409" y="238" width="3" height="1"/><rect x="425" y="227" width="1" height="5"/><rect x="424" y="228" width="3" height="1"/><rect x="445" y="200" width="1" height="6"/><rect x="444" y="202" width="3" height="2"/><rect x="450" y="200" width="1" height="6"/><rect x="449" y="203" width="3" height="3"/><rect x="454" y="204" width="1" height="10"/><rect x="453" y="205" width="3" height="5"/><rect x="469" y="196" width="1" height="3"/><rect x="468" y="197" width="3" height="1"/><rect x="494" y="173" width="1" height="9"/><rect x="493" y="175" width="3" height="1"/><rect x="499" y="172" width="1" height="20"/><rect x="498" y="175" width="3" height="14"/><rect x="518" y="173" width="1" height="7"/><rect x="517" y="176" width="3" height="3"/><rect x="548" y="130" width="1" height="14"/><rect x="547" y="134" width="3" height="7"/><rect x="577" y="80" width="1" height="17"/><rect x="576" y="81" width="3" height="6"/><rect x="582" y="81" width="1" height="92"/><rect x="581" y="86" width="3" height="70"/><rect x="597" y="101" width="1" height="69"/><rect x="596" y="103" width="3" height="50"/><rect x="602" y="144" width="1" height="25"/><rect x="601" y="153" width="3" height="4"/><rect x="607" y="157" width="1" height="48"/><rect x="606" y="157" width="3" height="10"/><rect x="612" y="164" width="1" height="33"/><rect x="611" y="164" width="3" height="20"/><rect x="617" y="183" width="1" height="75"/><rect x="616" y="183" width="3" height="25"/><rect x="622" y="207" width="1" height="25"/><rect x="621" y="207" width="3" height="19"/><rect x="627" y="220" width="1" height="35"/><rect x="626" y="236" width="3" height="11"/><rect x="632" y="217" width="1" height="62"/><rect x="631" y="246" width="3" height="21"/><rect x="637" y="252" width="1" height="64"/><rect x="636" y="266" width="3" height="13"/><rect x="646" y="232" width="1" height="40"/><rect x="645" y="241" width="3" height="31"/><rect x="671" y="204" width="1" height="13"/><rect x="670" y="210" width="3" height="1"/><rect x="681" y="195" width="1" height="23"/><rect x="680" y="207" width="3" height="2"/><rect x="700" y="175" width="1" height="16"/><rect x="699" y="176" width="3" height="9"/><rect x="705" y="180" width="1" height="36"/><rect x="704" y="184" width="3" height="27"/><rect x="720" y="189" width="1" height="48"/><rect x="719" y="191" width="3" height="28"/><rect x="730" y="205" width="1" height="20"/><rect x="729" y="211" width="3" height="10"/><rect x="735" y="218" width="1" height="16"/><rect x="734" y="221" width="3" height="11"/><rect x="745" y="226" width="1" height="29"/><rect x="744" y="228" width="3" height="27"/><rect x="774" y="202" width="1" height="4"/><rect x="773" y="202" width="3" height="1"/><rect x="784" y="184" width="1" height="16"/><rect x="783" y="186" width="3" height="5"/><rect x="789" y="184" width="1" height="10"/><rect x="788" y="190" width="3" height="3"/><rect x="809" y="176" width="1" height="20"/><rect x="808" y="178" width="3" height="10"/><rect x="814" y="182" width="1" height="10"/><rect x="813" y="187" width="3" height="1"/><rect x="828" y="177" width="1" height="17"/><rect x="827" y="182" width="3" height="8"/><rect x="858" y="169" width="1" height="21"/><rect x="857" y="170" width="3" height="12"/><rect x="868" y="173" width="1" height="9"/><rect x="867" y="177" width="3" height="5"/><rect x="873" y="178" width="1" height="6"/><rect x="872" y="181" width="3" height="1"/><rect x="883" y="177" width="1" height="6"/><rect x="882" y="180" width="3" height="1"/><rect x="887" y="176" width="1" height="9"/><rect x="886" y="180" width="3" height="1"/><rect x="892" y="179" width="1" height="39"/><rect x="891" y="181" width="3" height="25"/><rect x="897" y="204" width="1" height="12"/><rect x="896" y="205" width="3" height="6"/><rect x="907" y="194" width="1" height="11"/><rect x="906" y="197" width="3" height="3"/><rect x="912" y="196" width="1" height="11"/><rect x="911" y="198" width="3" height="6"/><rect x="932" y="182" width="1" height="9"/><rect x="931" y="186" width="3" height="4"/><rect x="937" y="187" width="1" height="11"/><rect x="936" y="189" width="3" height="8"/><rect x="947" y="190" width="1" height="4"/><rect x="946" y="192" width="3" height="1"/><rect x="951" y="191" width="1" height="9"/><rect x="950" y="192" width="3" height="7"/><rect x="961" y="193" width="1" height="3"/><rect x="960" y="194" width="3" height="2"/><rect x="966" y="195" width="1" height="14"/><rect x="965" y="195" width="3" height="8"/><rect x="971" y="202" width="1" height="20"/><rect x="970" y="202" width="3" height="9"/><rect x="981" y="205" width="1" height="21"/><rect x="980" y="208" width="3" height="11"/><rect x="991" y="217" width="1" height="6"/><rect x="990" y="218" width="3" height="5"/><rect x="1006" y="207" width="1" height="6"/><rect x="1005" y="208" width="3" height="4"/><rect x="1015" y="191" width="1" height="8"/><rect x="1014" y="194" width="3" height="4"/><rect x="1020" y="196" width="1" height="5"/><rect x="1019" y="197" width="3" height="1"/><rect x="1035" y="189" width="1" height="9"/><rect x="1034" y="191" width="3" height="7"/><rect x="1045" y="190" width="1" height="8"/><rect x="1044" y="191" width="3" height="6"/><rect x="1050" y="192" width="1" height="5"/><rect x="1049" y="196" width="3" height="1"/><rect x="1094" y="158" width="1" height="10"/><rect x="1093" y="159" width="3" height="7"/><rect x="1119" y="145" width="1" height="19"/><rect x="1118" y="145" width="3" height="14"/><rect x="1129" y="156" width="1" height="4"/><rect x="1128" y="157" width="3" height="2"/><rect x="1134" y="158" width="1" height="16"/><rect x="1133" y="158" width="3" height="7"/><rect x="1143" y="158" width="1" height="11"/><rect x="1142" y="162" width="3" height="2"/><rect x="1158" y="153" width="1" height="9"/><rect x="1157" y="156" width="3" height="1"/><rect x="1173" y="151" width="1" height="12"/><rect x="1172" y="151" width="3" height="10"/><rect x="1183" y="151" width="1" height="6"/><rect x="1182" y="154" width="3" height="3"/><rect x="1188" y="154" width="1" height="7"/><rect x="1187" y="155" width="3" height="6"/><rect x="1202" y="152" width="1" height="5"/><rect x="1201" y="155" width="3" height="1"/><rect x="1207" y="152" width="1" height="7"/><rect x="1206" y="156" width="3" height="1"/><rect x="1212" y="152" width="1" height="6"/><rect x="1211" y="156" width="3" height="2"/><rect x="1242" y="114" width="1" height="17"/><rect x="1241" y="114" width="3" height="5"/><rect x="1252" y="108" width="1" height="8"/><rect x="1251" y="110" width="3" height="5"/><rect x="1257" y="108" width="1" height="22"/><rect x="1256" y="114" width="3" height="16"/><rect x="1276" y="116" width="1" height="20"/><rect x="1275" y="118" width="3" height="9"/><rect x="1281" y="124" width="1" height="54"/><rect x="1280" y="126" width="3" height="38"/><rect x="1286" y="147" width="1" height="47"/><rect x="1285" y="164" width="3" height="11"/><rect x="1306" y="156" width="1" height="13"/><rect x="1305" y="158" width="3" height="2"/><rect x="1316" y="151" width="1" height="15"/><rect x="1315" y="154" width="3" height="10"/></g>
<path d="M1,164.5 H1551" stroke="#f23645" stroke-width="1" stroke-dasharray="1 2" shape-rendering="crispEdges"/>
</g>
<g clip-path="url(#c2)">
<rect x="2" y="438.5" width="1549" height="99" fill="#7e57c2" fill-opacity="0.1"/>
<path d="M1,438.5 H1551" stroke="#787b86" stroke-width="1" stroke-dasharray="5 6" fill="none"/>
<path d="M1,488.5 H1551" stroke="#787b86" stroke-width="1" stroke-dasharray="5 6" fill="none"/>
<path d="M1,537.5 H1551" stroke="#787b86" stroke-width="1" stroke-dasharray="5 6" fill="none"/>
<path d="M0.0,498.3 L2.1,503.3 L7.1,512.3 L12.1,505.3 L17.1,487.2 L21.1,475.2 L26.1,468.2 L31.1,469.2 L36.1,459.2 L41.1,463.8 L46.1,463.2 L51.1,453.8 L56.1,458.6 L61.1,457.2 L66.1,451.8 L71.1,450.6 L76.1,445.7 L80.1,458.6 L85.1,467.2 L90.1,477.2 L95.1,477.8 L100.1,472.2 L105.1,468.2 L110.1,484.2 L115.1,490.2 L120.1,495.3 L125.1,476.8 L130.1,476.8 L135.1,464.2 L140.1,472.2 L144.1,468.8 L149.1,465.8 L154.1,447.7 L159.1,458.2 L164.1,454.2 L169.1,440.1 L174.1,430.5 L179.1,425.7 L184.1,427.7 L189.1,418.5 L194.1,427.1 L199.1,436.1 L203.1,439.7 L208.1,451.2 L213.1,447.7 L218.1,436.5 L223.1,452.6 L228.1,453.2 L233.1,441.1 L238.1,439.7 L243.1,441.7 L248.1,451.8 L253.1,443.1 L258.1,461.2 L263.1,476.2 L267.1,471.2 L272.1,463.6 L277.1,465.8 L282.1,465.8 L287.1,470.2 L292.1,480.2 L297.1,473.8 L302.1,470.2 L307.1,498.7 L312.1,486.6 L317.1,491.6 L322.1,450.6 L327.1,458.2 L331.1,456.2 L336.1,458.6 L341.1,453.2 L346.1,454.6 L351.1,459.6 L356.1,453.2 L361.1,439.5 L366.1,434.5 L371.1,432.7 L376.1,425.7 L381.1,421.5 L386.1,407.4 L390.1,406.0 L395.1,404.0 L400.1,420.1 L405.1,459.8 L410.1,461.6 L415.1,454.8 L420.1,444.7 L425.1,445.7 L430.1,435.5 L435.1,426.1 L440.1,417.5 L445.1,421.5 L450.1,426.1 L454.1,438.5 L459.1,430.1 L464.1,425.5 L469.1,427.1 L474.1,417.7 L479.1,410.7 L484.1,409.1 L489.1,408.6 L494.1,409.1 L499.1,446.5 L504.1,442.7 L509.1,434.7 L513.1,432.7 L518.1,438.1 L523.1,434.7 L528.1,432.7 L533.1,418.1 L538.1,409.1 L543.1,403.0 L548.1,417.5 L553.1,414.1 L558.1,408.6 L563.1,394.6 L568.1,392.6 L573.1,392.4 L577.1,403.4 L582.1,489.8 L587.1,473.2 L592.1,457.6 L597.1,490.2 L602.1,491.8 L607.1,497.3 L612.1,507.3 L617.1,518.3 L622.1,525.3 L627.1,533.3 L632.1,540.8 L637.1,544.0 L641.1,517.7 L646.1,527.9 L651.1,518.3 L656.1,508.7 L661.1,503.9 L666.1,491.8 L671.1,491.8 L676.1,489.8 L681.1,490.6 L686.1,487.6 L691.1,472.6 L696.1,470.8 L700.1,476.8 L705.1,494.3 L710.1,490.8 L715.1,481.6 L720.1,498.3 L725.1,493.9 L730.1,499.9 L735.1,505.7 L740.1,503.9 L745.1,518.3 L750.1,499.7 L755.1,497.3 L760.1,490.2 L764.1,482.8 L769.1,480.6 L774.1,480.8 L779.1,469.6 L784.1,472.8 L789.1,474.8 L794.1,474.2 L799.1,466.2 L804.1,463.8 L809.1,473.6 L814.1,474.2 L819.1,473.2 L823.1,468.8 L828.1,478.2 L833.1,476.2 L838.1,473.2 L843.1,470.6 L848.1,470.2 L853.1,457.2 L858.1,473.6 L863.1,468.8 L868.1,474.8 L873.1,476.6 L878.1,474.8 L883.1,474.6 L887.1,476.2 L892.1,511.3 L897.1,516.9 L902.1,496.9 L907.1,498.7 L912.1,503.9 L917.1,496.9 L922.1,482.2 L927.1,479.8 L932.1,483.8 L937.1,493.9 L942.1,487.2 L947.1,488.2 L951.1,496.7 L956.1,492.7 L961.1,492.9 L966.1,504.9 L971.1,516.3 L976.1,511.3 L981.1,525.3 L986.1,524.7 L991.1,529.3 L996.1,502.7 L1001.1,498.9 L1006.1,504.3 L1010.1,475.6 L1015.1,480.8 L1020.1,482.8 L1025.1,480.8 L1030.1,471.6 L1035.1,481.2 L1040.1,472.2 L1045.1,481.8 L1050.1,481.8 L1055.1,481.8 L1060.1,474.8 L1065.1,470.8 L1070.1,461.8 L1074.1,450.8 L1079.1,445.5 L1084.1,429.7 L1089.1,429.7 L1094.1,445.5 L1099.1,441.7 L1104.1,431.7 L1109.1,428.1 L1114.1,424.5 L1119.1,455.8 L1124.1,453.8 L1129.1,457.2 L1134.1,467.2 L1138.1,465.8 L1143.1,469.2 L1148.1,457.8 L1153.1,456.8 L1158.1,458.6 L1163.1,454.2 L1168.1,450.8 L1173.1,474.2 L1178.1,463.2 L1183.1,466.6 L1188.1,477.2 L1193.1,469.2 L1197.1,468.6 L1202.1,469.8 L1207.1,470.6 L1212.1,475.2 L1217.1,470.2 L1222.1,447.5 L1227.1,443.7 L1232.1,439.7 L1237.1,413.1 L1242.1,424.5 L1247.1,418.1 L1252.1,432.5 L1257.1,461.2 L1261.1,457.2 L1266.1,452.8 L1271.1,448.5 L1276.1,465.2 L1281.1,514.7 L1286.1,523.7 L1291.1,518.3 L1296.1,514.3 L1301.1,500.3 L1306.1,501.7 L1311.1,494.7 L1316.1,506.7" fill="none" stroke="#9c56c4" stroke-width="1.2" stroke-linejoin="round"/>
</g>
<g clip-path="url(#c3)">
<g fill="#22ab94" shape-rendering="crispEdges"><rect x="15" y="657" width="3" height="4"/><rect x="20" y="656" width="3" height="5"/><rect x="25" y="654" width="3" height="7"/><rect x="30" y="653" width="3" height="8"/><rect x="35" y="652" width="3" height="9"/><rect x="40" y="652" width="3" height="9"/><rect x="49" y="652" width="3" height="9"/><rect x="153" y="658" width="3" height="3"/><rect x="158" y="658" width="3" height="3"/><rect x="163" y="658" width="3" height="3"/><rect x="168" y="657" width="3" height="4"/><rect x="172" y="655" width="3" height="6"/><rect x="177" y="654" width="3" height="7"/><rect x="182" y="654" width="3" height="7"/><rect x="187" y="653" width="3" height="8"/><rect x="217" y="658" width="3" height="3"/><rect x="232" y="659" width="3" height="2"/><rect x="236" y="659" width="3" height="2"/><rect x="325" y="660" width="3" height="1"/><rect x="330" y="659" width="3" height="2"/><rect x="335" y="658" width="3" height="3"/><rect x="340" y="658" width="3" height="3"/><rect x="345" y="658" width="3" height="3"/><rect x="355" y="658" width="3" height="3"/><rect x="359" y="657" width="3" height="4"/><rect x="364" y="656" width="3" height="5"/><rect x="369" y="655" width="3" height="6"/><rect x="374" y="655" width="3" height="6"/><rect x="379" y="654" width="3" height="7"/><rect x="384" y="652" width="3" height="9"/><rect x="389" y="651" width="3" height="10"/><rect x="394" y="650" width="3" height="11"/><rect x="419" y="659" width="3" height="2"/><rect x="428" y="659" width="3" height="2"/><rect x="433" y="657" width="3" height="4"/><rect x="438" y="655" width="3" height="6"/><rect x="443" y="654" width="3" height="7"/><rect x="463" y="656" width="3" height="5"/><rect x="473" y="655" width="3" height="6"/><rect x="478" y="654" width="3" height="7"/><rect x="482" y="653" width="3" height="8"/><rect x="537" y="657" width="3" height="4"/><rect x="542" y="654" width="3" height="7"/><rect x="546" y="653" width="3" height="8"/><rect x="551" y="653" width="3" height="8"/><rect x="556" y="652" width="3" height="9"/><rect x="561" y="646" width="3" height="15"/><rect x="566" y="643" width="3" height="18"/><rect x="571" y="642" width="3" height="19"/><rect x="669" y="660" width="3" height="1"/><rect x="674" y="654" width="3" height="7"/><rect x="679" y="651" width="3" height="10"/><rect x="684" y="648" width="3" height="13"/><rect x="689" y="642" width="3" height="19"/><rect x="694" y="639" width="3" height="22"/><rect x="699" y="639" width="3" height="22"/><rect x="763" y="657" width="3" height="4"/><rect x="768" y="654" width="3" height="7"/><rect x="773" y="652" width="3" height="9"/><rect x="778" y="649" width="3" height="12"/><rect x="783" y="647" width="3" height="14"/><rect x="797" y="648" width="3" height="13"/><rect x="802" y="647" width="3" height="14"/><rect x="852" y="656" width="3" height="5"/><rect x="1009" y="658" width="3" height="3"/><rect x="1014" y="657" width="3" height="4"/><rect x="1019" y="656" width="3" height="5"/><rect x="1024" y="655" width="3" height="6"/><rect x="1029" y="654" width="3" height="7"/><rect x="1039" y="654" width="3" height="7"/><rect x="1058" y="656" width="3" height="5"/><rect x="1063" y="656" width="3" height="5"/><rect x="1068" y="655" width="3" height="6"/><rect x="1073" y="654" width="3" height="7"/><rect x="1078" y="652" width="3" height="9"/><rect x="1083" y="650" width="3" height="11"/><rect x="1088" y="649" width="3" height="12"/><rect x="1103" y="650" width="3" height="11"/><rect x="1107" y="650" width="3" height="11"/><rect x="1112" y="650" width="3" height="11"/><rect x="1226" y="659" width="3" height="2"/><rect x="1230" y="658" width="3" height="3"/><rect x="1235" y="653" width="3" height="8"/><rect x="1240" y="652" width="3" height="9"/><rect x="1245" y="650" width="3" height="11"/></g>
<g fill="#ace5dc" shape-rendering="crispEdges"><rect x="0" y="657" width="3" height="4"/><rect x="5" y="658" width="3" height="3"/><rect x="10" y="659" width="3" height="2"/><rect x="45" y="652" width="3" height="9"/><rect x="54" y="652" width="3" height="9"/><rect x="59" y="653" width="3" height="8"/><rect x="64" y="653" width="3" height="8"/><rect x="69" y="654" width="3" height="7"/><rect x="74" y="654" width="3" height="7"/><rect x="79" y="655" width="3" height="6"/><rect x="84" y="657" width="3" height="4"/><rect x="89" y="658" width="3" height="3"/><rect x="94" y="659" width="3" height="2"/><rect x="192" y="653" width="3" height="8"/><rect x="197" y="654" width="3" height="7"/><rect x="202" y="655" width="3" height="6"/><rect x="207" y="657" width="3" height="4"/><rect x="212" y="658" width="3" height="3"/><rect x="222" y="659" width="3" height="2"/><rect x="241" y="659" width="3" height="2"/><rect x="350" y="658" width="3" height="3"/><rect x="399" y="651" width="3" height="10"/><rect x="404" y="655" width="3" height="6"/><rect x="409" y="658" width="3" height="3"/><rect x="414" y="659" width="3" height="2"/><rect x="423" y="660" width="3" height="1"/><rect x="448" y="655" width="3" height="6"/><rect x="453" y="656" width="3" height="5"/><rect x="458" y="656" width="3" height="5"/><rect x="468" y="657" width="3" height="4"/><rect x="487" y="654" width="3" height="7"/><rect x="492" y="654" width="3" height="7"/><rect x="497" y="658" width="3" height="3"/><rect x="576" y="643" width="3" height="18"/><rect x="581" y="657" width="3" height="4"/><rect x="704" y="644" width="3" height="17"/><rect x="709" y="647" width="3" height="14"/><rect x="714" y="647" width="3" height="14"/><rect x="719" y="652" width="3" height="9"/><rect x="724" y="654" width="3" height="7"/><rect x="729" y="657" width="3" height="4"/><rect x="788" y="648" width="3" height="13"/><rect x="793" y="648" width="3" height="13"/><rect x="807" y="649" width="3" height="12"/><rect x="812" y="652" width="3" height="9"/><rect x="817" y="653" width="3" height="8"/><rect x="822" y="653" width="3" height="8"/><rect x="827" y="655" width="3" height="6"/><rect x="832" y="657" width="3" height="4"/><rect x="837" y="657" width="3" height="4"/><rect x="842" y="658" width="3" height="3"/><rect x="847" y="658" width="3" height="3"/><rect x="856" y="658" width="3" height="3"/><rect x="861" y="658" width="3" height="3"/><rect x="866" y="659" width="3" height="2"/><rect x="1034" y="654" width="3" height="7"/><rect x="1043" y="655" width="3" height="6"/><rect x="1048" y="655" width="3" height="6"/><rect x="1053" y="656" width="3" height="5"/><rect x="1093" y="650" width="3" height="11"/><rect x="1098" y="651" width="3" height="10"/><rect x="1117" y="653" width="3" height="8"/><rect x="1122" y="655" width="3" height="6"/><rect x="1127" y="657" width="3" height="4"/><rect x="1132" y="659" width="3" height="2"/><rect x="1250" y="650" width="3" height="11"/><rect x="1255" y="653" width="3" height="8"/><rect x="1260" y="655" width="3" height="6"/><rect x="1265" y="657" width="3" height="4"/><rect x="1270" y="657" width="3" height="4"/><rect x="1275" y="659" width="3" height="2"/></g>
<g fill="#ff5252" shape-rendering="crispEdges"><rect x="99" y="660" width="3" height="1"/><rect x="104" y="660" width="3" height="1"/><rect x="109" y="660" width="3" height="2"/><rect x="113" y="660" width="3" height="3"/><rect x="118" y="660" width="3" height="4"/><rect x="227" y="660" width="3" height="1"/><rect x="246" y="660" width="3" height="1"/><rect x="256" y="660" width="3" height="2"/><rect x="261" y="660" width="3" height="3"/><rect x="266" y="660" width="3" height="4"/><rect x="286" y="660" width="3" height="4"/><rect x="291" y="660" width="3" height="5"/><rect x="305" y="660" width="3" height="5"/><rect x="315" y="660" width="3" height="5"/><rect x="502" y="660" width="3" height="1"/><rect x="507" y="660" width="3" height="1"/><rect x="512" y="660" width="3" height="2"/><rect x="517" y="660" width="3" height="3"/><rect x="522" y="660" width="3" height="3"/><rect x="527" y="660" width="3" height="3"/><rect x="586" y="660" width="3" height="4"/><rect x="596" y="660" width="3" height="11"/><rect x="601" y="660" width="3" height="17"/><rect x="606" y="660" width="3" height="21"/><rect x="610" y="660" width="3" height="27"/><rect x="615" y="660" width="3" height="33"/><rect x="620" y="660" width="3" height="38"/><rect x="625" y="660" width="3" height="43"/><rect x="630" y="660" width="3" height="48"/><rect x="635" y="660" width="3" height="50"/><rect x="733" y="660" width="3" height="2"/><rect x="738" y="660" width="3" height="4"/><rect x="743" y="660" width="3" height="9"/><rect x="871" y="660" width="3" height="1"/><rect x="876" y="660" width="3" height="1"/><rect x="881" y="660" width="3" height="2"/><rect x="886" y="660" width="3" height="2"/><rect x="891" y="660" width="3" height="7"/><rect x="896" y="660" width="3" height="10"/><rect x="911" y="660" width="3" height="9"/><rect x="935" y="660" width="3" height="3"/><rect x="950" y="660" width="3" height="2"/><rect x="965" y="660" width="3" height="3"/><rect x="970" y="660" width="3" height="5"/><rect x="975" y="660" width="3" height="5"/><rect x="979" y="660" width="3" height="7"/><rect x="984" y="660" width="3" height="8"/><rect x="989" y="660" width="3" height="8"/><rect x="1137" y="660" width="3" height="2"/><rect x="1142" y="660" width="3" height="3"/><rect x="1157" y="660" width="3" height="3"/><rect x="1171" y="660" width="3" height="4"/><rect x="1181" y="660" width="3" height="4"/><rect x="1186" y="660" width="3" height="5"/><rect x="1211" y="660" width="3" height="4"/><rect x="1280" y="660" width="3" height="8"/><rect x="1285" y="660" width="3" height="14"/><rect x="1289" y="660" width="3" height="17"/><rect x="1294" y="660" width="3" height="18"/></g>
<g fill="#fccbcd" shape-rendering="crispEdges"><rect x="123" y="660" width="3" height="3"/><rect x="128" y="660" width="3" height="3"/><rect x="133" y="660" width="3" height="2"/><rect x="138" y="660" width="3" height="2"/><rect x="143" y="660" width="3" height="1"/><rect x="148" y="660" width="3" height="1"/><rect x="251" y="660" width="3" height="1"/><rect x="271" y="660" width="3" height="4"/><rect x="276" y="660" width="3" height="4"/><rect x="281" y="660" width="3" height="4"/><rect x="296" y="660" width="3" height="4"/><rect x="300" y="660" width="3" height="4"/><rect x="310" y="660" width="3" height="5"/><rect x="320" y="660" width="3" height="2"/><rect x="532" y="660" width="3" height="1"/><rect x="591" y="660" width="3" height="3"/><rect x="640" y="660" width="3" height="43"/><rect x="645" y="660" width="3" height="41"/><rect x="650" y="660" width="3" height="35"/><rect x="655" y="660" width="3" height="26"/><rect x="660" y="660" width="3" height="18"/><rect x="665" y="660" width="3" height="8"/><rect x="748" y="660" width="3" height="7"/><rect x="753" y="660" width="3" height="5"/><rect x="758" y="660" width="3" height="2"/><rect x="901" y="660" width="3" height="10"/><rect x="906" y="660" width="3" height="9"/><rect x="916" y="660" width="3" height="8"/><rect x="920" y="660" width="3" height="5"/><rect x="925" y="660" width="3" height="3"/><rect x="930" y="660" width="3" height="1"/><rect x="940" y="660" width="3" height="2"/><rect x="945" y="660" width="3" height="2"/><rect x="955" y="660" width="3" height="2"/><rect x="960" y="660" width="3" height="2"/><rect x="994" y="660" width="3" height="6"/><rect x="999" y="660" width="3" height="4"/><rect x="1004" y="660" width="3" height="3"/><rect x="1147" y="660" width="3" height="3"/><rect x="1152" y="660" width="3" height="3"/><rect x="1162" y="660" width="3" height="3"/><rect x="1166" y="660" width="3" height="2"/><rect x="1176" y="660" width="3" height="4"/><rect x="1191" y="660" width="3" height="4"/><rect x="1196" y="660" width="3" height="4"/><rect x="1201" y="660" width="3" height="4"/><rect x="1206" y="660" width="3" height="4"/><rect x="1216" y="660" width="3" height="4"/><rect x="1221" y="660" width="3" height="2"/><rect x="1299" y="660" width="3" height="16"/><rect x="1304" y="660" width="3" height="14"/><rect x="1309" y="660" width="3" height="11"/><rect x="1314" y="660" width="3" height="11"/></g>
<path d="M0.0,669.6 L2.1,669.6 L7.1,670.5 L12.1,670.6 L17.1,668.7 L21.1,665.9 L26.1,662.8 L31.1,660.5 L36.1,657.3 L41.1,655.3 L46.1,653.7 L51.1,651.6 L56.1,650.2 L61.1,649.0 L66.1,647.6 L71.1,646.6 L76.1,645.3 L80.1,645.4 L85.1,646.3 L90.1,647.7 L95.1,649.0 L100.1,649.6 L105.1,649.8 L110.1,651.2 L115.1,652.7 L120.1,654.5 L125.1,654.6 L130.1,654.8 L135.1,653.9 L140.1,653.8 L144.1,653.5 L149.1,653.1 L154.1,651.2 L159.1,650.6 L164.1,649.7 L169.1,647.8 L174.1,645.1 L179.1,642.5 L184.1,640.8 L189.1,638.1 L194.1,636.8 L199.1,636.6 L203.1,637.0 L208.1,637.9 L213.1,638.6 L218.1,637.9 L223.1,638.8 L228.1,639.7 L233.1,639.3 L238.1,639.0 L243.1,639.2 L248.1,640.1 L253.1,639.9 L258.1,641.2 L263.1,643.4 L267.1,644.5 L272.1,645.0 L277.1,645.7 L282.1,646.5 L287.1,647.3 L292.1,649.0 L297.1,649.9 L302.1,650.5 L307.1,652.8 L312.1,653.8 L317.1,655.1 L322.1,652.4 L327.1,650.9 L331.1,649.4 L336.1,648.5 L341.1,647.5 L346.1,647.0 L351.1,647.1 L356.1,646.6 L361.1,644.9 L366.1,643.0 L371.1,641.5 L376.1,639.4 L381.1,637.5 L386.1,633.3 L390.1,630.0 L395.1,627.3 L400.1,626.5 L405.1,628.9 L410.1,631.1 L415.1,632.4 L420.1,632.4 L425.1,632.8 L430.1,631.6 L435.1,629.4 L440.1,626.0 L445.1,624.0 L450.1,623.3 L454.1,623.9 L459.1,623.1 L464.1,622.0 L469.1,621.8 L474.1,619.4 L479.1,616.6 L484.1,614.3 L489.1,613.0 L494.1,612.6 L499.1,615.5 L504.1,617.4 L509.1,618.1 L513.1,618.7 L518.1,620.2 L523.1,621.1 L528.1,621.8 L533.1,619.7 L538.1,615.7 L543.1,611.0 L548.1,609.2 L553.1,607.5 L558.1,604.9 L563.1,595.5 L568.1,587.6 L573.1,582.1 L577.1,579.8 L582.1,593.0 L587.1,599.1 L592.1,598.8 L597.1,609.4 L602.1,619.1 L607.1,629.2 L612.1,640.9 L617.1,655.3 L622.1,670.2 L627.1,686.1 L632.1,702.3 L637.1,717.0 L641.1,720.2 L646.1,728.2 L651.1,731.0 L656.1,728.7 L661.1,724.6 L666.1,716.0 L671.1,708.8 L676.1,701.8 L681.1,696.1 L686.1,690.4 L691.1,680.4 L696.1,671.8 L700.1,666.6 L705.1,667.8 L710.1,667.5 L715.1,664.3 L720.1,667.4 L725.1,668.2 L730.1,670.6 L735.1,674.7 L740.1,677.0 L745.1,684.0 L750.1,684.0 L755.1,683.1 L760.1,680.3 L764.1,675.5 L769.1,670.8 L774.1,667.2 L779.1,660.9 L784.1,656.9 L789.1,654.2 L794.1,651.8 L799.1,648.0 L804.1,644.5 L809.1,643.9 L814.1,643.6 L819.1,643.3 L823.1,642.4 L828.1,643.4 L833.1,644.1 L838.1,644.2 L843.1,643.8 L848.1,643.7 L853.1,641.4 L858.1,642.1 L863.1,642.0 L868.1,643.0 L873.1,643.9 L878.1,644.6 L883.1,645.4 L887.1,646.1 L892.1,652.0 L897.1,657.7 L902.1,659.4 L907.1,661.3 L912.1,663.6 L917.1,664.2 L922.1,662.8 L927.1,661.2 L932.1,660.5 L937.1,661.4 L942.1,661.1 L947.1,661.0 L951.1,662.1 L956.1,662.2 L961.1,662.4 L966.1,664.0 L971.1,666.8 L976.1,668.4 L981.1,671.7 L986.1,673.8 L991.1,676.4 L996.1,675.8 L1001.1,674.7 L1006.1,674.3 L1010.1,670.3 L1015.1,667.8 L1020.1,665.7 L1025.1,663.9 L1030.1,661.2 L1035.1,660.4 L1040.1,658.5 L1045.1,658.1 L1050.1,657.8 L1055.1,657.5 L1060.1,656.5 L1065.1,655.3 L1070.1,653.4 L1074.1,650.3 L1079.1,647.5 L1084.1,642.5 L1089.1,638.6 L1094.1,637.1 L1099.1,635.6 L1104.1,632.8 L1109.1,630.0 L1114.1,627.3 L1119.1,628.4 L1124.1,629.3 L1129.1,630.6 L1134.1,633.2 L1138.1,634.9 L1143.1,636.9 L1148.1,637.3 L1153.1,637.8 L1158.1,638.6 L1163.1,638.7 L1168.1,638.6 L1173.1,640.8 L1178.1,641.3 L1183.1,642.5 L1188.1,644.4 L1193.1,645.0 L1197.1,645.6 L1202.1,646.3 L1207.1,647.2 L1212.1,648.3 L1217.1,648.8 L1222.1,647.0 L1227.1,645.4 L1232.1,643.7 L1237.1,637.4 L1242.1,633.6 L1247.1,629.3 L1252.1,627.1 L1257.1,628.8 L1261.1,629.9 L1266.1,630.2 L1271.1,629.9 L1276.1,631.8 L1281.1,641.2 L1286.1,651.0 L1291.1,657.8 L1296.1,662.8 L1301.1,664.6 L1306.1,666.3 L1311.1,666.4 L1316.1,668.4" fill="none" stroke="#2196f3" stroke-width="1.2" stroke-linejoin="round"/>
<path d="M0.0,672.7 L2.1,672.7 L7.1,672.3 L12.1,672.0 L17.1,671.3 L21.1,670.2 L26.1,668.7 L31.1,667.1 L36.1,665.1 L41.1,663.2 L46.1,661.3 L51.1,659.3 L56.1,657.5 L61.1,655.8 L66.1,654.2 L71.1,652.6 L76.1,651.2 L80.1,650.0 L85.1,649.3 L90.1,649.0 L95.1,649.0 L100.1,649.1 L105.1,649.2 L110.1,649.6 L115.1,650.2 L120.1,651.1 L125.1,651.8 L130.1,652.4 L135.1,652.7 L140.1,652.9 L144.1,653.0 L149.1,653.0 L154.1,652.7 L159.1,652.3 L164.1,651.7 L169.1,651.0 L174.1,649.8 L179.1,648.3 L184.1,646.8 L189.1,645.1 L194.1,643.4 L199.1,642.1 L203.1,641.1 L208.1,640.4 L213.1,640.1 L218.1,639.6 L223.1,639.5 L228.1,639.5 L233.1,639.5 L238.1,639.4 L243.1,639.3 L248.1,639.5 L253.1,639.6 L258.1,639.9 L263.1,640.6 L267.1,641.4 L272.1,642.1 L277.1,642.8 L282.1,643.6 L287.1,644.3 L292.1,645.2 L297.1,646.2 L302.1,647.0 L307.1,648.2 L312.1,649.3 L317.1,650.5 L322.1,650.9 L327.1,650.9 L331.1,650.6 L336.1,650.2 L341.1,649.6 L346.1,649.1 L351.1,648.7 L356.1,648.3 L361.1,647.6 L366.1,646.7 L371.1,645.6 L376.1,644.4 L381.1,643.0 L386.1,641.1 L390.1,638.9 L395.1,636.6 L400.1,634.5 L405.1,633.4 L410.1,632.9 L415.1,632.8 L420.1,632.8 L425.1,632.8 L430.1,632.5 L435.1,631.9 L440.1,630.7 L445.1,629.4 L450.1,628.2 L454.1,627.3 L459.1,626.5 L464.1,625.6 L469.1,624.8 L474.1,623.7 L479.1,622.3 L484.1,620.7 L489.1,619.2 L494.1,617.9 L499.1,617.4 L504.1,617.4 L509.1,617.5 L513.1,617.8 L518.1,618.2 L523.1,618.8 L528.1,619.4 L533.1,619.5 L538.1,618.7 L543.1,617.2 L548.1,615.6 L553.1,614.0 L558.1,612.1 L563.1,608.8 L568.1,604.6 L573.1,600.1 L577.1,596.0 L582.1,595.4 L587.1,596.1 L592.1,596.7 L597.1,599.2 L602.1,603.2 L607.1,608.4 L612.1,614.9 L617.1,623.0 L622.1,632.4 L627.1,643.2 L632.1,655.0 L637.1,667.4 L641.1,677.9 L646.1,688.0 L651.1,696.6 L656.1,703.0 L661.1,707.3 L666.1,709.1 L671.1,709.0 L676.1,707.6 L681.1,705.3 L686.1,702.3 L691.1,697.9 L696.1,692.7 L700.1,687.5 L705.1,683.5 L710.1,680.3 L715.1,677.1 L720.1,675.2 L725.1,673.8 L730.1,673.1 L735.1,673.5 L740.1,674.2 L745.1,676.1 L750.1,677.7 L755.1,678.8 L760.1,679.1 L764.1,678.4 L769.1,676.9 L774.1,674.9 L779.1,672.1 L784.1,669.1 L789.1,666.1 L794.1,663.2 L799.1,660.2 L804.1,657.0 L809.1,654.4 L814.1,652.3 L819.1,650.5 L823.1,648.8 L828.1,647.8 L833.1,647.0 L838.1,646.5 L843.1,645.9 L848.1,645.5 L853.1,644.7 L858.1,644.2 L863.1,643.7 L868.1,643.6 L873.1,643.6 L878.1,643.8 L883.1,644.1 L887.1,644.5 L892.1,646.0 L897.1,648.4 L902.1,650.6 L907.1,652.7 L912.1,654.9 L917.1,656.8 L922.1,658.0 L927.1,658.6 L932.1,659.0 L937.1,659.5 L942.1,659.8 L947.1,660.0 L951.1,660.5 L956.1,660.8 L961.1,661.1 L966.1,661.7 L971.1,662.7 L976.1,663.8 L981.1,665.4 L986.1,667.1 L991.1,669.0 L996.1,670.3 L1001.1,671.2 L1006.1,671.8 L1010.1,671.5 L1015.1,670.8 L1020.1,669.8 L1025.1,668.6 L1030.1,667.1 L1035.1,665.8 L1040.1,664.3 L1045.1,663.1 L1050.1,662.0 L1055.1,661.1 L1060.1,660.2 L1065.1,659.2 L1070.1,658.0 L1074.1,656.5 L1079.1,654.7 L1084.1,652.2 L1089.1,649.5 L1094.1,647.0 L1099.1,644.7 L1104.1,642.3 L1109.1,639.9 L1114.1,637.4 L1119.1,635.6 L1124.1,634.3 L1129.1,633.6 L1134.1,633.5 L1138.1,633.8 L1143.1,634.4 L1148.1,635.0 L1153.1,635.5 L1158.1,636.2 L1163.1,636.7 L1168.1,637.1 L1173.1,637.8 L1178.1,638.5 L1183.1,639.3 L1188.1,640.3 L1193.1,641.3 L1197.1,642.1 L1202.1,643.0 L1207.1,643.8 L1212.1,644.7 L1217.1,645.5 L1222.1,645.8 L1227.1,645.7 L1232.1,645.3 L1237.1,643.7 L1242.1,641.7 L1247.1,639.2 L1252.1,636.8 L1257.1,635.2 L1261.1,634.1 L1266.1,633.3 L1271.1,632.7 L1276.1,632.5 L1281.1,634.2 L1286.1,637.6 L1291.1,641.6 L1296.1,645.9 L1301.1,649.6 L1306.1,653.0 L1311.1,655.7 L1316.1,658.2" fill="none" stroke="#ff6d00" stroke-width="1.2" stroke-linejoin="round"/>
</g>
<rect x="1" y="2" width="1" height="779" fill="#eef0f4" fill-opacity="0.6"/>
<text x="1561.2" y="33.9" fill="#131722" stroke="#131722" stroke-width="0.3" textLength="57.92" lengthAdjust="spacingAndGlyphs" font-size="15.2">5,800.00</text>
<text x="1561.2" y="74.9" fill="#131722" stroke="#131722" stroke-width="0.3" textLength="57.92" lengthAdjust="spacingAndGlyphs" font-size="15.2">5,600.00</text>
<text x="1561.2" y="115.9" fill="#131722" stroke="#131722" stroke-width="0.3" textLength="57.92" lengthAdjust="spacingAndGlyphs" font-size="15.2">5,400.00</text>
<text x="1561.2" y="156.9" fill="#131722" stroke="#131722" stroke-width="0.3" textLength="57.92" lengthAdjust="spacingAndGlyphs" font-size="15.2">5,200.00</text>
<text x="1561.2" y="197.9" fill="#131722" stroke="#131722" stroke-width="0.3" textLength="57.92" lengthAdjust="spacingAndGlyphs" font-size="15.2">5,000.00</text>
<text x="1561.2" y="238.9" fill="#131722" stroke="#131722" stroke-width="0.3" textLength="57.92" lengthAdjust="spacingAndGlyphs" font-size="15.2">4,800.00</text>
<text x="1561.2" y="279.9" fill="#131722" stroke="#131722" stroke-width="0.3" textLength="57.92" lengthAdjust="spacingAndGlyphs" font-size="15.2">4,600.00</text>
<text x="1561.2" y="320.9" fill="#131722" stroke="#131722" stroke-width="0.3" textLength="57.92" lengthAdjust="spacingAndGlyphs" font-size="15.2">4,400.00</text>
<text x="1561.2" y="361.9" fill="#131722" stroke="#131722" stroke-width="0.3" textLength="57.92" lengthAdjust="spacingAndGlyphs" font-size="15.2">4,200.00</text>
<text x="1561.2" y="419.0" fill="#131722" stroke="#131722" stroke-width="0.3" textLength="37.24" lengthAdjust="spacingAndGlyphs" font-size="15.2">80.00</text>
<text x="1561.2" y="469.0" fill="#131722" stroke="#131722" stroke-width="0.3" textLength="37.24" lengthAdjust="spacingAndGlyphs" font-size="15.2">60.00</text>
<text x="1561.2" y="613.0" fill="#131722" stroke="#131722" stroke-width="0.3" textLength="45.51" lengthAdjust="spacingAndGlyphs" font-size="15.2">100.00</text>
<text x="1561.2" y="718.0" fill="#131722" stroke="#131722" stroke-width="0.3" textLength="50.47" lengthAdjust="spacingAndGlyphs" font-size="15.2">-100.00</text>
<path d="M1551,88 H1623.5 a2.5,2.5 0 0 1 2.5,2.5 V106.5 a2.5,2.5 0 0 1 -2.5,2.5 H1551 Z" fill="#2196f3"/>
<text x="1561.2" y="103.5" fill="#fff" stroke="#fff" stroke-width="0.3" textLength="57.92" lengthAdjust="spacingAndGlyphs" font-size="15.2">5,462.92</text>
<path d="M1551,131 H1623.5 a2.5,2.5 0 0 1 2.5,2.5 V149.5 a2.5,2.5 0 0 1 -2.5,2.5 H1551 Z" fill="#ff6d00"/>
<text x="1561.2" y="146.5" fill="#fff" stroke="#fff" stroke-width="0.3" textLength="57.92" lengthAdjust="spacingAndGlyphs" font-size="15.2">5,257.28</text>
<path d="M1551,154 H1623.5 a2.5,2.5 0 0 1 2.5,2.5 V172.5 a2.5,2.5 0 0 1 -2.5,2.5 H1551 Z" fill="#f23645"/>
<text x="1561.2" y="169.5" fill="#fff" stroke="#fff" stroke-width="0.3" textLength="57.92" lengthAdjust="spacingAndGlyphs" font-size="15.2">5,141.52</text>
<path d="M1551,176 H1623.5 a2.5,2.5 0 0 1 2.5,2.5 V194.5 a2.5,2.5 0 0 1 -2.5,2.5 H1551 Z" fill="#2196f3"/>
<text x="1561.2" y="191.5" fill="#fff" stroke="#fff" stroke-width="0.3" textLength="57.92" lengthAdjust="spacingAndGlyphs" font-size="15.2">5,051.64</text>
<path d="M1551,197 H1623.5 a2.5,2.5 0 0 1 2.5,2.5 V215.5 a2.5,2.5 0 0 1 -2.5,2.5 H1551 Z" fill="#2a2e39"/>
<text x="1561.2" y="212.5" fill="#fff" stroke="#fff" stroke-width="0.3" textLength="57.92" lengthAdjust="spacingAndGlyphs" font-size="15.2">4,997.59</text>
<path d="M1551,218 H1623.5 a2.5,2.5 0 0 1 2.5,2.5 V236.5 a2.5,2.5 0 0 1 -2.5,2.5 H1551 Z" fill="#2a2e39"/>
<text x="1561.2" y="233.5" fill="#fff" stroke="#fff" stroke-width="0.3" textLength="57.92" lengthAdjust="spacingAndGlyphs" font-size="15.2">4,850.42</text>
<path d="M1551,254 H1623.5 a2.5,2.5 0 0 1 2.5,2.5 V272.5 a2.5,2.5 0 0 1 -2.5,2.5 H1551 Z" fill="#2a2e39"/>
<text x="1561.2" y="269.5" fill="#fff" stroke="#fff" stroke-width="0.3" textLength="57.92" lengthAdjust="spacingAndGlyphs" font-size="15.2">4,655.28</text>
<path d="M1551,306 H1623.5 a2.5,2.5 0 0 1 2.5,2.5 V324.5 a2.5,2.5 0 0 1 -2.5,2.5 H1551 Z" fill="#2a2e39"/>
<text x="1561.2" y="321.5" fill="#fff" stroke="#fff" stroke-width="0.3" textLength="57.92" lengthAdjust="spacingAndGlyphs" font-size="15.2">4,402.23</text>
<path d="M1551,497 H1602.5 a2.5,2.5 0 0 1 2.5,2.5 V515.5 a2.5,2.5 0 0 1 -2.5,2.5 H1551 Z" fill="#9c56c4"/>
<text x="1561.2" y="512.5" fill="#fff" stroke="#fff" stroke-width="0.3" textLength="37.24" lengthAdjust="spacingAndGlyphs" font-size="15.2">42.29</text>
<path d="M1551,618 H1594.5 a2.5,2.5 0 0 1 2.5,2.5 V636.5 a2.5,2.5 0 0 1 -2.5,2.5 H1551 Z" fill="#ff6d00"/>
<text x="1561.2" y="633.5" fill="#fff" stroke="#fff" stroke-width="0.3" textLength="28.96" lengthAdjust="spacingAndGlyphs" font-size="15.2">2.97</text>
<path d="M1551,639 H1607.5 a2.5,2.5 0 0 1 2.5,2.5 V657.5 a2.5,2.5 0 0 1 -2.5,2.5 H1551 Z" fill="#2196f3"/>
<text x="1561.2" y="654.5" fill="#fff" stroke="#fff" stroke-width="0.3" textLength="42.19" lengthAdjust="spacingAndGlyphs" font-size="15.2">-16.73</text>
<path d="M1551,660 H1607.5 a2.5,2.5 0 0 1 2.5,2.5 V678.5 a2.5,2.5 0 0 1 -2.5,2.5 H1551 Z" fill="#fccbcd"/>
<text x="1561.2" y="675.5" fill="#131722" stroke="#131722" stroke-width="0.3" textLength="42.19" lengthAdjust="spacingAndGlyphs" font-size="15.2">-19.70</text>
<text x="104.7" y="769.8" fill="#131722" stroke="#131722" stroke-width="0.3" textLength="7.9" lengthAdjust="spacingAndGlyphs" text-anchor="middle">8</text>
<text x="227.7" y="769.8" fill="#131722" stroke="#131722" stroke-width="0.3" textLength="15.2" lengthAdjust="spacingAndGlyphs" text-anchor="middle">14</text>
<text x="350.7" y="769.8" fill="#131722" stroke="#131722" stroke-width="0.3" textLength="15.2" lengthAdjust="spacingAndGlyphs" text-anchor="middle">20</text>
<text x="468.7" y="769.8" fill="#131722" stroke="#131722" stroke-width="0.3" textLength="15.2" lengthAdjust="spacingAndGlyphs" text-anchor="middle">24</text>
<text x="626.7" y="769.8" fill="#131722" font-weight="bold" textLength="25.3" lengthAdjust="spacingAndGlyphs" text-anchor="middle">Feb</text>
<text x="744.7" y="769.8" fill="#131722" stroke="#131722" stroke-width="0.3" textLength="7.9" lengthAdjust="spacingAndGlyphs" text-anchor="middle">6</text>
<text x="867.7" y="769.8" fill="#131722" stroke="#131722" stroke-width="0.3" textLength="15.2" lengthAdjust="spacingAndGlyphs" text-anchor="middle">12</text>
<text x="990.7" y="769.8" fill="#131722" stroke="#131722" stroke-width="0.3" textLength="15.2" lengthAdjust="spacingAndGlyphs" text-anchor="middle">18</text>
<text x="1113.7" y="769.8" fill="#131722" stroke="#131722" stroke-width="0.3" textLength="15.2" lengthAdjust="spacingAndGlyphs" text-anchor="middle">24</text>
<text x="1236.7" y="769.8" fill="#131722" font-weight="bold" textLength="26.2" lengthAdjust="spacingAndGlyphs" text-anchor="middle">Mar</text>
<text x="1354.7" y="769.8" fill="#131722" stroke="#131722" stroke-width="0.3" textLength="7.9" lengthAdjust="spacingAndGlyphs" text-anchor="middle">6</text>
<text x="1472.7" y="769.8" fill="#131722" stroke="#131722" stroke-width="0.3" textLength="15.2" lengthAdjust="spacingAndGlyphs" text-anchor="middle">10</text>
<text x="11.05" y="25.6" fill="#131722" stroke="#131722" stroke-width="0.3" textLength="30.8" lengthAdjust="spacingAndGlyphs">Gold</text>
<text x="47.0" y="25.6" fill="#131722" stroke="#131722" stroke-width="0.3" textLength="17.4" lengthAdjust="spacingAndGlyphs">US</text>
<text x="68.55" y="25.6" fill="#131722" stroke="#131722" stroke-width="0.3" textLength="45.3" lengthAdjust="spacingAndGlyphs">Dollars</text>
<text x="118.55" y="25.6" fill="#131722" stroke="#131722" stroke-width="0.3" textLength="21.55" lengthAdjust="spacingAndGlyphs">per</text>
<text x="145.3" y="25.6" fill="#131722" stroke="#131722" stroke-width="0.3" textLength="42.05" lengthAdjust="spacingAndGlyphs">Ounce</text>
<text x="192.3" y="25.6" fill="#131722" stroke="#131722" stroke-width="0.3" textLength="28.3" lengthAdjust="spacingAndGlyphs">Spot</text>
<text x="226.05" y="25.6" fill="#131722" stroke="#131722" stroke-width="0.3" textLength="44.55" lengthAdjust="spacingAndGlyphs">Prices,</text>
<text x="274.8" y="25.6" fill="#131722" stroke="#131722" stroke-width="0.3" textLength="17.05" lengthAdjust="spacingAndGlyphs">4h</text>
<text x="300.55" y="25.6" fill="#131722" stroke="#131722" stroke-width="0.3" textLength="10.05" lengthAdjust="spacingAndGlyphs">O</text>
<text x="378.55" y="25.6" fill="#131722" stroke="#131722" stroke-width="0.3" textLength="9.55" lengthAdjust="spacingAndGlyphs">H</text>
<text x="455.3" y="25.6" fill="#131722" stroke="#131722" stroke-width="0.3" textLength="7.3" lengthAdjust="spacingAndGlyphs">L</text>
<text x="529.8" y="25.6" fill="#131722" stroke="#131722" stroke-width="0.3" textLength="8.8" lengthAdjust="spacingAndGlyphs">C</text>
<text x="311.55" y="25.6" fill="#f23645" stroke="#f23645" stroke-width="0.3" textLength="57.05" lengthAdjust="spacingAndGlyphs">5,192.20</text>
<text x="389.05" y="25.6" fill="#f23645" stroke="#f23645" stroke-width="0.3" textLength="56.55" lengthAdjust="spacingAndGlyphs">5,206.22</text>
<text x="463.55" y="25.6" fill="#f23645" stroke="#f23645" stroke-width="0.3" textLength="57.55" lengthAdjust="spacingAndGlyphs">5,131.38</text>
<text x="539.3" y="25.6" fill="#f23645" stroke="#f23645" stroke-width="0.3" textLength="57.55" lengthAdjust="spacingAndGlyphs">5,141.52</text>
<text x="606.8" y="25.6" fill="#f23645" stroke="#f23645" stroke-width="0.3" textLength="41.8" lengthAdjust="spacingAndGlyphs">-50.65</text>
<text x="654.7" y="25.6" fill="#f23645" stroke="#f23645" stroke-width="0.3" textLength="54.7" lengthAdjust="spacingAndGlyphs">(−0.98%)</text>
<text x="11.05" y="47" fill="#131722" stroke="#131722" stroke-width="0.3" textLength="17.05" lengthAdjust="spacingAndGlyphs">BB</text>
<text x="33.55" y="47" fill="#131722" stroke="#131722" stroke-width="0.3" textLength="25.35" lengthAdjust="spacingAndGlyphs">(20,</text>
<text x="64.3" y="47" fill="#131722" stroke="#131722" stroke-width="0.3" textLength="13.05" lengthAdjust="spacingAndGlyphs">2)</text>
<text x="86.05" y="47" fill="#ff6d00" stroke="#ff6d00" stroke-width="0.3" textLength="59.05" lengthAdjust="spacingAndGlyphs">5,257.28</text>
<text x="153.55" y="47" fill="#2196f3" stroke="#2196f3" stroke-width="0.3" textLength="58.3" lengthAdjust="spacingAndGlyphs">5,462.92</text>
<text x="221.05" y="47" fill="#2196f3" stroke="#2196f3" stroke-width="0.3" textLength="58.3" lengthAdjust="spacingAndGlyphs">5,051.64</text>
<text x="11.4" y="398.4" fill="#131722" stroke="#131722" stroke-width="0.3" textLength="19.2" lengthAdjust="spacingAndGlyphs">RSI</text>
<text x="36.8" y="398.4" fill="#131722" stroke="#131722" stroke-width="0.3" textLength="25.8" lengthAdjust="spacingAndGlyphs">(14)</text>
<text x="71.6" y="398.4" fill="#9c56c4" stroke="#9c56c4" stroke-width="0.3" textLength="37.3" lengthAdjust="spacingAndGlyphs">42.29</text>
<text x="10.8" y="586" fill="#131722" stroke="#131722" stroke-width="0.3" textLength="37.8" lengthAdjust="spacingAndGlyphs">MACD</text>
<text x="54.8" y="586" fill="#131722" stroke="#131722" stroke-width="0.3" textLength="22.8" lengthAdjust="spacingAndGlyphs">(12,</text>
<text x="84.8" y="586" fill="#131722" stroke="#131722" stroke-width="0.3" textLength="19.8" lengthAdjust="spacingAndGlyphs">26,</text>
<text x="110.1" y="586" fill="#131722" stroke="#131722" stroke-width="0.3" textLength="39.3" lengthAdjust="spacingAndGlyphs">close,</text>
<text x="153.6" y="586" fill="#131722" stroke="#131722" stroke-width="0.3" textLength="14.4" lengthAdjust="spacingAndGlyphs">9)</text>
<text x="177.4" y="586" fill="#fccbcd" stroke="#fccbcd" stroke-width="0.3" textLength="42.8" lengthAdjust="spacingAndGlyphs">-19.70</text>
<text x="229.4" y="586" fill="#2196f3" stroke="#2196f3" stroke-width="0.3" textLength="42.2" lengthAdjust="spacingAndGlyphs">-16.73</text>
<text x="279.8" y="586" fill="#ff6d00" stroke="#ff6d00" stroke-width="0.3" textLength="29.8" lengthAdjust="spacingAndGlyphs">2.97</text>
</svg>
</body></html>
